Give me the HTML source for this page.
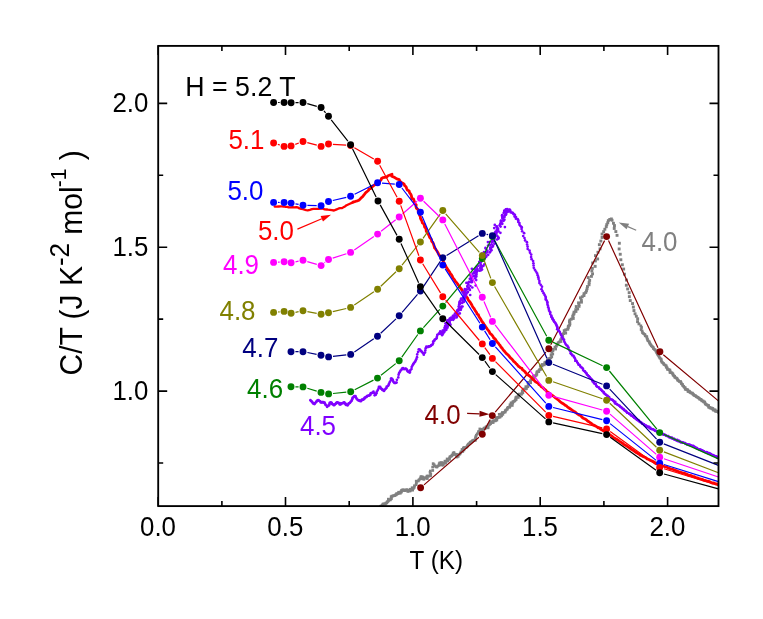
<!DOCTYPE html><html><head><meta charset="utf-8"><style>html,body{margin:0;padding:0;background:#fff;overflow:hidden}svg{will-change:transform}</style></head><body><svg width="763" height="619" viewBox="0 0 763 619" style="display:block;font-family:'Liberation Sans',sans-serif">
<rect width="763" height="619" fill="#fff"/>
<defs><clipPath id="cp"><rect x="158.2" y="45.9" width="560.3" height="460.20000000000005"/></clipPath></defs>
<g clip-path="url(#cp)">
<g fill="#808080"><rect x="379.2" y="504.9" width="2.7" height="2.7"/><rect x="380.3" y="504.9" width="2.7" height="2.7"/><rect x="380.7" y="504.0" width="2.7" height="2.7"/><rect x="381.3" y="503.4" width="2.7" height="2.7"/><rect x="381.8" y="502.6" width="2.7" height="2.7"/><rect x="382.8" y="502.6" width="2.7" height="2.7"/><rect x="384.0" y="502.8" width="2.7" height="2.7"/><rect x="384.4" y="501.8" width="2.7" height="2.7"/><rect x="385.4" y="501.6" width="2.7" height="2.7"/><rect x="385.8" y="500.6" width="2.7" height="2.7"/><rect x="386.5" y="500.1" width="2.7" height="2.7"/><rect x="387.1" y="499.4" width="2.7" height="2.7"/><rect x="387.0" y="497.8" width="2.7" height="2.7"/><rect x="388.8" y="498.6" width="2.7" height="2.7"/><rect x="389.4" y="497.8" width="2.7" height="2.7"/><rect x="390.1" y="497.2" width="2.7" height="2.7"/><rect x="389.8" y="495.4" width="2.7" height="2.7"/><rect x="390.5" y="494.8" width="2.7" height="2.7"/><rect x="391.6" y="494.7" width="2.7" height="2.7"/><rect x="392.4" y="494.3" width="2.7" height="2.7"/><rect x="393.5" y="494.2" width="2.7" height="2.7"/><rect x="394.0" y="493.6" width="2.7" height="2.7"/><rect x="395.0" y="493.4" width="2.7" height="2.7"/><rect x="395.2" y="492.3" width="2.7" height="2.7"/><rect x="396.3" y="492.4" width="2.7" height="2.7"/><rect x="397.0" y="491.9" width="2.7" height="2.7"/><rect x="397.3" y="490.9" width="2.7" height="2.7"/><rect x="398.9" y="491.9" width="2.7" height="2.7"/><rect x="399.1" y="490.7" width="2.7" height="2.7"/><rect x="400.1" y="490.7" width="2.7" height="2.7"/><rect x="400.1" y="489.2" width="2.7" height="2.7"/><rect x="400.8" y="488.7" width="2.7" height="2.7"/><rect x="401.6" y="488.6" width="2.7" height="2.7"/><rect x="402.5" y="488.6" width="2.7" height="2.7"/><rect x="403.1" y="489.2" width="2.7" height="2.7"/><rect x="403.8" y="489.1" width="2.7" height="2.7"/><rect x="404.6" y="488.7" width="2.7" height="2.7"/><rect x="405.3" y="488.4" width="2.7" height="2.7"/><rect x="406.0" y="488.8" width="2.7" height="2.7"/><rect x="406.5" y="490.1" width="2.7" height="2.7"/><rect x="407.4" y="488.8" width="2.7" height="2.7"/><rect x="408.0" y="489.6" width="2.7" height="2.7"/><rect x="408.9" y="489.5" width="2.7" height="2.7"/><rect x="408.9" y="487.9" width="2.7" height="2.7"/><rect x="410.2" y="488.4" width="2.7" height="2.7"/><rect x="411.3" y="488.8" width="2.7" height="2.7"/><rect x="410.8" y="486.4" width="2.7" height="2.7"/><rect x="412.1" y="487.0" width="2.7" height="2.7"/><rect x="412.9" y="486.0" width="2.7" height="2.7"/><rect x="413.1" y="484.4" width="2.7" height="2.7"/><rect x="414.7" y="483.3" width="2.7" height="2.7"/><rect x="415.0" y="481.7" width="2.7" height="2.7"/><rect x="414.9" y="479.8" width="2.7" height="2.7"/><rect x="416.9" y="479.7" width="2.7" height="2.7"/><rect x="417.5" y="478.7" width="2.7" height="2.7"/><rect x="418.4" y="477.8" width="2.7" height="2.7"/><rect x="419.4" y="477.0" width="2.7" height="2.7"/><rect x="419.5" y="475.6" width="2.7" height="2.7"/><rect x="419.9" y="475.3" width="2.7" height="2.7"/><rect x="421.4" y="475.6" width="2.7" height="2.7"/><rect x="421.0" y="477.4" width="2.7" height="2.7"/><rect x="422.4" y="477.8" width="2.7" height="2.7"/><rect x="422.6" y="477.6" width="2.7" height="2.7"/><rect x="423.0" y="476.7" width="2.7" height="2.7"/><rect x="423.8" y="476.5" width="2.7" height="2.7"/><rect x="424.7" y="476.4" width="2.7" height="2.7"/><rect x="426.0" y="477.2" width="2.7" height="2.7"/><rect x="425.6" y="474.8" width="2.7" height="2.7"/><rect x="426.5" y="474.7" width="2.7" height="2.7"/><rect x="427.8" y="474.8" width="2.7" height="2.7"/><rect x="429.2" y="474.3" width="2.7" height="2.7"/><rect x="429.4" y="472.9" width="2.7" height="2.7"/><rect x="428.7" y="471.0" width="2.7" height="2.7"/><rect x="429.0" y="469.7" width="2.7" height="2.7"/><rect x="431.4" y="469.1" width="2.7" height="2.7"/><rect x="431.3" y="465.7" width="2.7" height="2.7"/><rect x="431.8" y="462.3" width="2.7" height="2.7"/><rect x="432.7" y="463.3" width="2.7" height="2.7"/><rect x="433.3" y="464.6" width="2.7" height="2.7"/><rect x="434.6" y="465.4" width="2.7" height="2.7"/><rect x="435.5" y="465.7" width="2.7" height="2.7"/><rect x="436.3" y="464.7" width="2.7" height="2.7"/><rect x="437.7" y="464.1" width="2.7" height="2.7"/><rect x="437.8" y="462.6" width="2.7" height="2.7"/><rect x="438.5" y="461.5" width="2.7" height="2.7"/><rect x="438.6" y="461.9" width="2.7" height="2.7"/><rect x="440.2" y="461.2" width="2.7" height="2.7"/><rect x="439.7" y="463.3" width="2.7" height="2.7"/><rect x="440.6" y="463.7" width="2.7" height="2.7"/><rect x="441.9" y="463.7" width="2.7" height="2.7"/><rect x="441.4" y="461.8" width="2.7" height="2.7"/><rect x="442.7" y="461.7" width="2.7" height="2.7"/><rect x="444.2" y="461.8" width="2.7" height="2.7"/><rect x="443.6" y="459.8" width="2.7" height="2.7"/><rect x="445.1" y="459.8" width="2.7" height="2.7"/><rect x="446.4" y="459.5" width="2.7" height="2.7"/><rect x="445.8" y="457.6" width="2.7" height="2.7"/><rect x="448.1" y="458.0" width="2.7" height="2.7"/><rect x="448.2" y="456.7" width="2.7" height="2.7"/><rect x="448.6" y="455.5" width="2.7" height="2.7"/><rect x="449.5" y="455.0" width="2.7" height="2.7"/><rect x="450.4" y="454.5" width="2.7" height="2.7"/><rect x="450.8" y="453.6" width="2.7" height="2.7"/><rect x="452.0" y="453.4" width="2.7" height="2.7"/><rect x="451.8" y="451.8" width="2.7" height="2.7"/><rect x="452.6" y="451.2" width="2.7" height="2.7"/><rect x="453.0" y="452.7" width="2.7" height="2.7"/><rect x="454.2" y="452.9" width="2.7" height="2.7"/><rect x="455.4" y="453.1" width="2.7" height="2.7"/><rect x="455.2" y="454.7" width="2.7" height="2.7"/><rect x="455.6" y="455.7" width="2.7" height="2.7"/><rect x="456.8" y="455.0" width="2.7" height="2.7"/><rect x="456.9" y="453.5" width="2.7" height="2.7"/><rect x="458.4" y="452.8" width="2.7" height="2.7"/><rect x="459.1" y="451.7" width="2.7" height="2.7"/><rect x="459.7" y="450.5" width="2.7" height="2.7"/><rect x="461.4" y="450.1" width="2.7" height="2.7"/><rect x="460.7" y="448.1" width="2.7" height="2.7"/><rect x="462.6" y="448.6" width="2.7" height="2.7"/><rect x="462.0" y="446.6" width="2.7" height="2.7"/><rect x="463.0" y="446.2" width="2.7" height="2.7"/><rect x="464.4" y="446.2" width="2.7" height="2.7"/><rect x="465.3" y="445.7" width="2.7" height="2.7"/><rect x="465.9" y="444.9" width="2.7" height="2.7"/><rect x="466.3" y="443.9" width="2.7" height="2.7"/><rect x="466.9" y="443.1" width="2.7" height="2.7"/><rect x="467.6" y="442.4" width="2.7" height="2.7"/><rect x="468.5" y="441.9" width="2.7" height="2.7"/><rect x="468.9" y="440.9" width="2.7" height="2.7"/><rect x="469.8" y="440.6" width="2.7" height="2.7"/><rect x="470.6" y="440.2" width="2.7" height="2.7"/><rect x="471.1" y="439.4" width="2.7" height="2.7"/><rect x="472.1" y="439.3" width="2.7" height="2.7"/><rect x="472.7" y="438.7" width="2.7" height="2.7"/><rect x="474.0" y="439.0" width="2.7" height="2.7"/><rect x="474.1" y="437.1" width="2.7" height="2.7"/><rect x="474.3" y="435.4" width="2.7" height="2.7"/><rect x="475.0" y="433.9" width="2.7" height="2.7"/><rect x="475.9" y="432.5" width="2.7" height="2.7"/><rect x="477.2" y="431.2" width="2.7" height="2.7"/><rect x="477.2" y="430.2" width="2.7" height="2.7"/><rect x="478.2" y="430.2" width="2.7" height="2.7"/><rect x="479.4" y="430.6" width="2.7" height="2.7"/><rect x="478.5" y="427.6" width="2.7" height="2.7"/><rect x="479.7" y="428.0" width="2.7" height="2.7"/><rect x="480.9" y="428.4" width="2.7" height="2.7"/><rect x="481.7" y="428.1" width="2.7" height="2.7"/><rect x="482.3" y="427.6" width="2.7" height="2.7"/><rect x="482.8" y="426.7" width="2.7" height="2.7"/><rect x="483.9" y="427.0" width="2.7" height="2.7"/><rect x="484.5" y="426.3" width="2.7" height="2.7"/><rect x="484.8" y="425.4" width="2.7" height="2.7"/><rect x="486.8" y="426.5" width="2.7" height="2.7"/><rect x="486.6" y="424.8" width="2.7" height="2.7"/><rect x="486.9" y="423.7" width="2.7" height="2.7"/><rect x="487.8" y="423.4" width="2.7" height="2.7"/><rect x="488.5" y="422.8" width="2.7" height="2.7"/><rect x="489.2" y="422.3" width="2.7" height="2.7"/><rect x="488.8" y="420.3" width="2.7" height="2.7"/><rect x="490.4" y="420.9" width="2.7" height="2.7"/><rect x="491.8" y="421.2" width="2.7" height="2.7"/><rect x="491.5" y="419.5" width="2.7" height="2.7"/><rect x="492.7" y="419.5" width="2.7" height="2.7"/><rect x="493.9" y="419.5" width="2.7" height="2.7"/><rect x="494.5" y="418.9" width="2.7" height="2.7"/><rect x="495.5" y="418.7" width="2.7" height="2.7"/><rect x="494.8" y="416.4" width="2.7" height="2.7"/><rect x="496.1" y="416.5" width="2.7" height="2.7"/><rect x="496.8" y="416.0" width="2.7" height="2.7"/><rect x="497.9" y="415.9" width="2.7" height="2.7"/><rect x="498.8" y="415.6" width="2.7" height="2.7"/><rect x="497.9" y="413.0" width="2.7" height="2.7"/><rect x="500.2" y="414.5" width="2.7" height="2.7"/><rect x="499.8" y="412.6" width="2.7" height="2.7"/><rect x="501.5" y="413.0" width="2.7" height="2.7"/><rect x="501.0" y="411.2" width="2.7" height="2.7"/><rect x="502.6" y="411.1" width="2.7" height="2.7"/><rect x="503.9" y="410.7" width="2.7" height="2.7"/><rect x="503.9" y="409.3" width="2.7" height="2.7"/><rect x="504.8" y="408.6" width="2.7" height="2.7"/><rect x="505.8" y="408.0" width="2.7" height="2.7"/><rect x="506.1" y="406.9" width="2.7" height="2.7"/><rect x="506.7" y="406.0" width="2.7" height="2.7"/><rect x="508.3" y="405.9" width="2.7" height="2.7"/><rect x="508.7" y="404.8" width="2.7" height="2.7"/><rect x="508.7" y="403.4" width="2.7" height="2.7"/><rect x="510.9" y="404.1" width="2.7" height="2.7"/><rect x="509.7" y="401.5" width="2.7" height="2.7"/><rect x="511.4" y="401.8" width="2.7" height="2.7"/><rect x="511.5" y="400.5" width="2.7" height="2.7"/><rect x="512.4" y="400.0" width="2.7" height="2.7"/><rect x="513.4" y="399.6" width="2.7" height="2.7"/><rect x="513.9" y="398.7" width="2.7" height="2.7"/><rect x="514.8" y="398.2" width="2.7" height="2.7"/><rect x="514.4" y="396.4" width="2.7" height="2.7"/><rect x="515.1" y="395.7" width="2.7" height="2.7"/><rect x="516.9" y="396.1" width="2.7" height="2.7"/><rect x="516.7" y="394.6" width="2.7" height="2.7"/><rect x="517.4" y="393.7" width="2.7" height="2.7"/><rect x="517.9" y="392.7" width="2.7" height="2.7"/><rect x="520.0" y="393.0" width="2.7" height="2.7"/><rect x="520.5" y="392.0" width="2.7" height="2.7"/><rect x="521.5" y="391.4" width="2.7" height="2.7"/><rect x="520.9" y="389.5" width="2.7" height="2.7"/><rect x="522.2" y="389.1" width="2.7" height="2.7"/><rect x="522.2" y="387.7" width="2.7" height="2.7"/><rect x="524.0" y="387.7" width="2.7" height="2.7"/><rect x="525.1" y="387.2" width="2.7" height="2.7"/><rect x="524.5" y="385.3" width="2.7" height="2.7"/><rect x="526.5" y="385.4" width="2.7" height="2.7"/><rect x="526.9" y="384.2" width="2.7" height="2.7"/><rect x="526.9" y="382.7" width="2.7" height="2.7"/><rect x="526.6" y="381.0" width="2.7" height="2.7"/><rect x="529.3" y="381.4" width="2.7" height="2.7"/><rect x="529.1" y="379.8" width="2.7" height="2.7"/><rect x="529.5" y="378.6" width="2.7" height="2.7"/><rect x="530.8" y="378.1" width="2.7" height="2.7"/><rect x="531.5" y="377.1" width="2.7" height="2.7"/><rect x="532.8" y="376.6" width="2.7" height="2.7"/><rect x="532.1" y="374.6" width="2.7" height="2.7"/><rect x="534.0" y="374.5" width="2.7" height="2.7"/><rect x="534.8" y="373.9" width="2.7" height="2.7"/><rect x="535.5" y="373.0" width="2.7" height="2.7"/><rect x="535.4" y="371.4" width="2.7" height="2.7"/><rect x="535.8" y="370.3" width="2.7" height="2.7"/><rect x="537.4" y="370.3" width="2.7" height="2.7"/><rect x="537.6" y="369.1" width="2.7" height="2.7"/><rect x="538.3" y="368.2" width="2.7" height="2.7"/><rect x="539.7" y="368.0" width="2.7" height="2.7"/><rect x="539.5" y="366.4" width="2.7" height="2.7"/><rect x="539.1" y="364.6" width="2.7" height="2.7"/><rect x="540.8" y="364.6" width="2.7" height="2.7"/><rect x="540.8" y="363.1" width="2.7" height="2.7"/><rect x="542.9" y="363.5" width="2.7" height="2.7"/><rect x="543.3" y="362.5" width="2.7" height="2.7"/><rect x="543.5" y="361.2" width="2.7" height="2.7"/><rect x="544.5" y="360.7" width="2.7" height="2.7"/><rect x="545.7" y="360.2" width="2.7" height="2.7"/><rect x="546.0" y="359.0" width="2.7" height="2.7"/><rect x="547.4" y="358.8" width="2.7" height="2.7"/><rect x="547.3" y="357.3" width="2.7" height="2.7"/><rect x="548.6" y="357.0" width="2.7" height="2.7"/><rect x="549.5" y="356.4" width="2.7" height="2.7"/><rect x="550.4" y="355.4" width="2.7" height="2.7"/><rect x="549.7" y="353.4" width="2.7" height="2.7"/><rect x="551.4" y="352.7" width="2.7" height="2.7"/><rect x="550.4" y="350.5" width="2.7" height="2.7"/><rect x="551.6" y="349.5" width="2.7" height="2.7"/><rect x="551.8" y="347.9" width="2.7" height="2.7"/><rect x="554.3" y="347.7" width="2.7" height="2.7"/><rect x="553.6" y="345.7" width="2.7" height="2.7"/><rect x="555.0" y="344.9" width="2.7" height="2.7"/><rect x="555.6" y="343.6" width="2.7" height="2.7"/><rect x="556.4" y="342.6" width="2.7" height="2.7"/><rect x="556.8" y="341.3" width="2.7" height="2.7"/><rect x="558.0" y="340.6" width="2.7" height="2.7"/><rect x="559.6" y="340.2" width="2.7" height="2.7"/><rect x="559.2" y="338.4" width="2.9" height="2.9"/><rect x="560.3" y="337.4" width="2.9" height="2.9"/><rect x="561.3" y="336.4" width="2.9" height="2.9"/><rect x="561.1" y="334.7" width="2.9" height="2.9"/><rect x="561.0" y="333.0" width="2.9" height="2.9"/><rect x="562.2" y="332.1" width="2.9" height="2.9"/><rect x="564.2" y="331.6" width="2.9" height="2.9"/><rect x="562.8" y="329.2" width="2.9" height="2.9"/><rect x="564.3" y="328.4" width="2.9" height="2.9"/><rect x="566.3" y="327.8" width="2.9" height="2.9"/><rect x="566.8" y="326.3" width="2.9" height="2.9"/><rect x="566.9" y="324.7" width="2.9" height="2.9"/><rect x="568.2" y="323.7" width="2.9" height="2.9"/><rect x="568.4" y="322.1" width="2.9" height="2.9"/><rect x="568.0" y="320.2" width="2.9" height="2.9"/><rect x="568.4" y="318.7" width="2.9" height="2.9"/><rect x="569.8" y="317.7" width="2.9" height="2.9"/><rect x="571.8" y="317.0" width="2.9" height="2.9"/><rect x="571.3" y="315.1" width="2.9" height="2.9"/><rect x="571.7" y="313.6" width="2.9" height="2.9"/><rect x="572.5" y="312.4" width="2.9" height="2.9"/><rect x="572.6" y="310.7" width="2.9" height="2.9"/><rect x="574.5" y="310.0" width="2.9" height="2.9"/><rect x="574.3" y="308.2" width="2.9" height="2.9"/><rect x="576.2" y="307.5" width="2.9" height="2.9"/><rect x="574.8" y="305.1" width="2.9" height="2.9"/><rect x="577.6" y="304.9" width="2.9" height="2.9"/><rect x="577.5" y="303.1" width="2.9" height="2.9"/><rect x="577.1" y="301.4" width="2.9" height="2.9"/><rect x="580.0" y="300.7" width="2.9" height="2.9"/><rect x="579.9" y="298.7" width="2.9" height="2.9"/><rect x="579.0" y="296.4" width="2.9" height="2.9"/><rect x="580.8" y="295.3" width="2.9" height="2.9"/><rect x="582.5" y="294.1" width="2.9" height="2.9"/><rect x="582.6" y="292.2" width="2.9" height="2.9"/><rect x="584.3" y="291.0" width="2.9" height="2.9"/><rect x="585.0" y="289.4" width="2.9" height="2.9"/><rect x="585.6" y="287.3" width="2.9" height="2.9"/><rect x="586.0" y="285.1" width="2.9" height="2.9"/><rect x="587.6" y="283.3" width="2.9" height="2.9"/><rect x="587.7" y="281.1" width="2.9" height="2.9"/><rect x="588.2" y="278.9" width="2.9" height="2.9"/><rect x="586.8" y="276.1" width="2.9" height="2.9"/><rect x="590.0" y="274.9" width="2.9" height="2.9"/><rect x="591.1" y="272.4" width="2.9" height="2.9"/><rect x="590.4" y="269.5" width="2.9" height="2.9"/><rect x="590.9" y="266.9" width="2.9" height="2.9"/><rect x="593.7" y="264.9" width="2.9" height="2.9"/><rect x="591.2" y="261.5" width="2.9" height="2.9"/><rect x="593.9" y="259.5" width="2.9" height="2.9"/><rect x="596.2" y="257.5" width="2.9" height="2.9"/><rect x="594.0" y="254.2" width="2.9" height="2.9"/><rect x="596.5" y="250.8" width="2.9" height="2.9"/><rect x="598.6" y="247.4" width="2.9" height="2.9"/><rect x="597.9" y="243.2" width="2.9" height="2.9"/><rect x="599.4" y="239.6" width="2.9" height="2.9"/><rect x="600.6" y="236.0" width="2.9" height="2.9"/><rect x="600.6" y="232.6" width="2.9" height="2.9"/><rect x="602.2" y="230.2" width="2.9" height="2.9"/><rect x="603.4" y="227.8" width="2.9" height="2.9"/><rect x="604.8" y="225.3" width="2.9" height="2.9"/><rect x="605.3" y="223.2" width="2.9" height="2.9"/><rect x="606.3" y="221.3" width="2.9" height="2.9"/><rect x="606.9" y="219.2" width="2.9" height="2.9"/><rect x="608.3" y="218.0" width="2.9" height="2.9"/><rect x="609.9" y="217.5" width="2.9" height="2.9"/><rect x="610.6" y="218.8" width="2.9" height="2.9"/><rect x="612.0" y="221.8" width="2.9" height="2.9"/><rect x="613.0" y="224.1" width="2.9" height="2.9"/><rect x="612.8" y="227.0" width="2.9" height="2.9"/><rect x="614.4" y="230.1" width="2.9" height="2.9"/><rect x="615.6" y="233.9" width="2.9" height="2.9"/><rect x="617.9" y="241.8" width="2.9" height="2.9"/><rect x="617.7" y="247.5" width="2.9" height="2.9"/><rect x="618.8" y="252.8" width="2.9" height="2.9"/><rect x="619.4" y="258.3" width="2.9" height="2.9"/><rect x="620.9" y="263.3" width="2.9" height="2.9"/><rect x="622.2" y="267.6" width="2.9" height="2.9"/><rect x="623.0" y="272.7" width="2.9" height="2.9"/><rect x="625.0" y="278.6" width="2.9" height="2.9"/><rect x="624.9" y="283.8" width="2.9" height="2.9"/><rect x="626.2" y="287.5" width="2.9" height="2.9"/><rect x="627.7" y="291.2" width="2.9" height="2.9"/><rect x="627.9" y="295.2" width="2.9" height="2.9"/><rect x="628.8" y="299.1" width="2.9" height="2.9"/><rect x="631.1" y="302.1" width="2.9" height="2.9"/><rect x="631.9" y="305.6" width="2.9" height="2.9"/><rect x="632.5" y="309.1" width="2.9" height="2.9"/><rect x="633.6" y="312.3" width="2.9" height="2.9"/><rect x="634.9" y="314.8" width="2.9" height="2.9"/><rect x="636.2" y="317.3" width="2.9" height="2.9"/><rect x="636.1" y="320.2" width="2.9" height="2.9"/><rect x="637.5" y="322.4" width="2.9" height="2.9"/><rect x="639.5" y="324.5" width="2.7" height="2.7"/><rect x="640.2" y="326.1" width="2.7" height="2.7"/><rect x="639.8" y="328.2" width="2.7" height="2.7"/><rect x="640.8" y="329.7" width="2.7" height="2.7"/><rect x="641.2" y="331.4" width="2.7" height="2.7"/><rect x="642.3" y="332.3" width="2.7" height="2.7"/><rect x="643.5" y="333.1" width="2.7" height="2.7"/><rect x="643.9" y="334.5" width="2.7" height="2.7"/><rect x="645.4" y="335.2" width="2.7" height="2.7"/><rect x="645.6" y="336.7" width="2.7" height="2.7"/><rect x="646.1" y="338.0" width="2.7" height="2.7"/><rect x="646.6" y="339.3" width="2.7" height="2.7"/><rect x="647.7" y="340.2" width="2.7" height="2.7"/><rect x="648.2" y="341.4" width="2.7" height="2.7"/><rect x="648.7" y="342.5" width="2.7" height="2.7"/><rect x="649.4" y="343.4" width="2.7" height="2.7"/><rect x="650.0" y="344.4" width="2.7" height="2.7"/><rect x="650.9" y="345.2" width="2.7" height="2.7"/><rect x="651.8" y="346.0" width="2.7" height="2.7"/><rect x="652.1" y="347.2" width="2.7" height="2.7"/><rect x="653.0" y="348.0" width="2.7" height="2.7"/><rect x="654.0" y="348.7" width="2.7" height="2.7"/><rect x="654.7" y="349.8" width="2.7" height="2.7"/><rect x="655.2" y="351.0" width="2.7" height="2.7"/><rect x="655.9" y="352.2" width="2.7" height="2.7"/><rect x="656.5" y="353.4" width="2.7" height="2.7"/><rect x="657.3" y="354.5" width="2.7" height="2.7"/><rect x="657.9" y="355.8" width="2.7" height="2.7"/><rect x="658.7" y="356.9" width="2.7" height="2.7"/><rect x="659.8" y="357.8" width="2.7" height="2.7"/><rect x="659.9" y="359.3" width="2.7" height="2.7"/><rect x="660.4" y="360.6" width="2.7" height="2.7"/><rect x="661.3" y="361.4" width="2.7" height="2.7"/><rect x="662.2" y="362.1" width="2.7" height="2.7"/><rect x="662.7" y="363.2" width="2.7" height="2.7"/><rect x="663.9" y="363.8" width="2.7" height="2.7"/><rect x="664.9" y="364.5" width="2.7" height="2.7"/><rect x="664.9" y="365.9" width="2.7" height="2.7"/><rect x="665.9" y="366.6" width="2.7" height="2.7"/><rect x="666.1" y="368.0" width="2.7" height="2.7"/><rect x="667.4" y="368.3" width="2.7" height="2.7"/><rect x="668.5" y="368.6" width="2.7" height="2.7"/><rect x="668.7" y="369.8" width="2.7" height="2.7"/><rect x="668.7" y="371.2" width="2.7" height="2.7"/><rect x="670.0" y="371.3" width="2.7" height="2.7"/><rect x="670.9" y="371.8" width="2.7" height="2.7"/><rect x="671.5" y="372.6" width="2.7" height="2.7"/><rect x="671.8" y="373.7" width="2.7" height="2.7"/><rect x="672.5" y="374.4" width="2.7" height="2.7"/><rect x="673.3" y="375.0" width="2.7" height="2.7"/><rect x="673.6" y="376.1" width="2.7" height="2.7"/><rect x="674.6" y="376.5" width="2.7" height="2.7"/><rect x="675.5" y="377.0" width="2.7" height="2.7"/><rect x="676.0" y="377.9" width="2.7" height="2.7"/><rect x="676.4" y="378.9" width="2.7" height="2.7"/><rect x="677.3" y="379.4" width="2.7" height="2.7"/><rect x="678.0" y="380.1" width="2.7" height="2.7"/><rect x="679.3" y="380.2" width="2.7" height="2.7"/><rect x="679.7" y="381.3" width="2.7" height="2.7"/><rect x="680.1" y="382.4" width="2.7" height="2.7"/><rect x="681.1" y="383.0" width="2.7" height="2.7"/><rect x="681.4" y="384.2" width="2.7" height="2.7"/><rect x="682.3" y="385.0" width="2.7" height="2.7"/><rect x="682.9" y="385.9" width="2.7" height="2.7"/><rect x="683.9" y="386.4" width="2.7" height="2.7"/><rect x="683.9" y="387.9" width="2.7" height="2.7"/><rect x="684.9" y="388.1" width="2.7" height="2.7"/><rect x="686.0" y="388.2" width="2.7" height="2.7"/><rect x="686.6" y="388.9" width="2.7" height="2.7"/><rect x="686.7" y="390.2" width="2.7" height="2.7"/><rect x="688.1" y="389.9" width="2.7" height="2.7"/><rect x="688.5" y="390.8" width="2.7" height="2.7"/><rect x="689.2" y="391.4" width="2.7" height="2.7"/><rect x="690.1" y="391.7" width="2.7" height="2.7"/><rect x="691.1" y="391.8" width="2.7" height="2.7"/><rect x="691.5" y="392.7" width="2.7" height="2.7"/><rect x="692.2" y="393.2" width="2.7" height="2.7"/><rect x="692.7" y="393.9" width="2.7" height="2.7"/><rect x="693.5" y="394.3" width="2.7" height="2.7"/><rect x="694.3" y="394.5" width="2.7" height="2.7"/><rect x="694.9" y="395.2" width="2.7" height="2.7"/><rect x="695.6" y="395.6" width="2.7" height="2.7"/><rect x="696.4" y="396.0" width="2.7" height="2.7"/><rect x="697.1" y="396.5" width="2.7" height="2.7"/><rect x="697.9" y="397.0" width="2.7" height="2.7"/><rect x="698.4" y="397.9" width="2.7" height="2.7"/><rect x="699.5" y="398.0" width="2.7" height="2.7"/><rect x="700.1" y="398.7" width="2.7" height="2.7"/><rect x="700.6" y="399.5" width="2.7" height="2.7"/><rect x="701.7" y="399.6" width="2.7" height="2.7"/><rect x="702.2" y="400.5" width="2.7" height="2.7"/><rect x="703.3" y="400.6" width="2.7" height="2.7"/><rect x="703.6" y="401.6" width="2.7" height="2.7"/><rect x="704.0" y="402.5" width="2.7" height="2.7"/><rect x="704.7" y="403.1" width="2.7" height="2.7"/><rect x="705.6" y="403.5" width="2.7" height="2.7"/><rect x="706.3" y="404.0" width="2.7" height="2.7"/><rect x="707.3" y="404.2" width="2.7" height="2.7"/><rect x="707.2" y="405.8" width="2.7" height="2.7"/><rect x="708.2" y="406.0" width="2.7" height="2.7"/><rect x="708.8" y="406.7" width="2.7" height="2.7"/><rect x="709.9" y="406.5" width="2.7" height="2.7"/><rect x="710.5" y="407.2" width="2.7" height="2.7"/><rect x="711.5" y="407.1" width="2.7" height="2.7"/><rect x="711.7" y="408.4" width="2.7" height="2.7"/><rect x="712.4" y="408.9" width="2.7" height="2.7"/><rect x="713.7" y="408.4" width="2.7" height="2.7"/><rect x="714.0" y="409.5" width="2.7" height="2.7"/><rect x="714.5" y="410.1" width="2.7" height="2.7"/><rect x="715.7" y="409.8" width="2.7" height="2.7"/><rect x="716.4" y="410.2" width="2.7" height="2.7"/><rect x="717.0" y="410.9" width="2.7" height="2.7"/></g>
<path d="M424.0 484.9L478.9 437.2M484.4 430.4L490.2 419.5M495.2 412.2L545.9 352.2M550.8 344.8L604.6 240.6M608.5 240.6L658.0 347.8M663.3 354.7L718.4 400.9" fill="none" stroke="#800000" stroke-width="1.2"/>
<g fill="#800000"><circle cx="420.6" cy="487.8" r="3.45"/><circle cx="482.3" cy="434.3" r="3.45"/><circle cx="492.3" cy="415.6" r="3.45"/><circle cx="548.8" cy="348.8" r="3.45"/><circle cx="606.6" cy="236.6" r="3.45"/><circle cx="659.9" cy="351.8" r="3.45"/></g>
<polyline points="274.6,206.6 276.6,206.6 278.7,206.5 280.7,206.4 282.0,206.3 283.7,206.5 285.5,206.9 287.3,206.8 288.7,207.3 290.7,207.3 292.5,207.2 294.5,207.4 296.2,207.2 297.9,207.4 299.5,208.4 301.2,208.9 303.0,209.1 304.5,209.6 306.2,210.1 307.7,210.3 309.8,209.8 312.0,209.2 313.6,208.9 315.4,208.9 317.0,208.9 318.9,208.8 320.7,208.7 322.7,208.7 324.7,209.3 326.8,209.5 328.0,209.7 329.8,209.8 331.8,210.1 334.0,210.5 336.1,209.6 338.2,208.7 340.0,208.2 341.7,208.2 343.4,207.3 345.0,206.4 346.1,205.5 347.7,204.7 349.9,203.7 351.8,202.9 353.0,202.2" fill="none" stroke="#ff0000" stroke-width="2.3" stroke-linejoin="round" stroke-linecap="round"/>
<polyline points="353.0,202.2 354.6,201.7 356.0,201.2 357.2,200.9 358.9,200.3 359.9,199.3 361.2,197.9 362.5,196.8 363.4,195.6 364.6,194.1 365.6,192.7 366.3,192.3 368.6,190.2 368.8,189.1 370.9,188.5 371.6,187.5 373.0,186.1 374.5,184.9 375.9,184.4 377.7,183.1 378.0,182.2 379.3,181.9 381.1,179.9 381.5,178.5 382.8,177.7 384.9,177.3 386.5,177.2 388.0,175.7 392.0,174.3 391.7,176.1 393.5,176.9 394.8,177.6 396.4,178.7 396.8,178.8 399.2,179.6 400.1,181.4 401.4,182.5 403.3,183.4 404.2,184.3 404.5,185.4 406.0,186.7 406.7,188.6 407.3,190.0 409.2,191.0 409.5,192.6 410.7,194.1 411.2,195.1 411.6,196.7 411.7,198.5 413.4,198.8 414.1,200.7 414.6,202.3 414.5,203.5 416.2,204.9 415.9,206.1 416.4,208.1 418.1,209.6 418.2,211.7 418.5,212.1 419.4,214.0 419.4,214.8 420.4,216.8 420.4,218.1 421.2,219.8 421.9,221.0 422.4,222.9 423.7,223.8 424.2,225.1 424.7,227.1 425.9,228.2 426.1,229.8 426.3,231.2 427.3,232.8 427.9,233.4 429.0,235.6 429.6,237.3 430.4,238.2 431.4,239.4 431.7,241.3 433.0,242.7 433.5,244.0 434.2,246.3 434.6,247.9 435.4,248.6 436.4,250.4 436.7,250.6 438.1,253.0 439.0,255.0 439.6,255.5 440.7,256.9 441.8,257.7 441.9,259.0 443.0,260.9 443.9,262.8 444.6,264.0 445.4,265.4 446.2,267.1 447.2,268.5 448.0,269.9 448.9,271.0 449.8,272.3 450.3,273.8 451.4,274.7 452.3,276.2 452.7,277.7 453.8,278.9 454.6,280.0 455.3,281.4 456.5,282.5 457.5,283.8 458.4,285.1 459.3,286.1 460.1,287.8 461.3,288.9 462.0,290.5 463.0,291.6 464.1,292.8 464.9,294.0 465.5,295.4 466.4,296.8 467.5,297.9 467.9,299.3 468.7,300.6 469.8,301.8 470.6,302.9 471.4,304.2 472.1,305.6 472.9,307.1 473.9,308.3 474.8,309.9 475.5,311.1 476.6,312.5 477.0,314.1 478.4,314.8 478.9,316.5 479.9,317.9 480.6,319.0 481.5,320.7 482.1,321.7 483.2,323.0 484.0,324.5 485.0,325.7 485.7,327.0 486.7,328.2 487.6,329.6 488.7,330.9 489.3,331.8 490.0,333.4 491.2,334.3 492.3,335.4 493.2,336.8 493.7,338.0 495.2,339.0 496.1,340.6 497.1,341.9 498.2,343.0 499.1,344.3 500.1,345.5 501.0,347.1 502.1,348.1 502.8,349.3 504.0,350.8 505.1,352.0 506.1,353.3 507.2,354.2 508.5,355.4 509.4,356.5 510.5,357.9 511.7,358.8 512.8,360.2 513.7,361.4 515.0,362.4 516.2,363.7 517.1,364.6 518.2,366.0 519.3,366.8 520.4,367.8 521.9,368.4 522.6,369.9 523.8,370.7 525.2,371.9 525.8,373.0 526.9,374.1 528.2,375.0 529.7,376.1 530.5,376.8 532.0,378.3 532.9,379.3 534.2,380.3 535.0,381.3 536.6,382.5 537.8,383.0 538.9,384.5 540.4,385.4 541.1,386.5 542.5,387.4 543.7,388.4 544.7,389.4 545.9,390.4 546.8,391.7 548.2,392.3 549.4,393.5 550.5,394.2 551.9,395.2 552.9,395.7 554.4,397.0 555.4,397.8 556.6,398.7 557.6,399.5 558.9,400.5 560.0,401.6 561.2,402.5 562.4,403.3 564.0,404.2 564.9,405.1 566.3,405.7 567.4,406.9 568.7,407.8 570.1,408.7 571.4,409.6 572.5,410.4 573.7,411.2 575.0,411.9 576.2,413.0 577.4,413.9 578.8,414.8 580.3,415.3 581.2,416.3 582.6,417.8 583.4,418.3 585.1,419.1 586.3,419.7 587.6,421.0 588.8,421.7 590.1,422.6 591.4,423.5 592.4,424.4 594.2,425.3 595.4,426.0 597.0,426.9 598.5,428.0 599.5,428.2 601.2,429.6 602.6,430.3 603.7,430.9 605.3,431.7 606.3,432.6 608.3,433.8 609.1,434.3 610.5,435.2 612.0,436.1 612.9,437.2 614.2,437.9 615.6,438.7 617.0,439.5 617.9,440.1 619.3,441.2 620.8,442.1 622.1,443.0 623.2,443.7 624.3,444.7 626.0,445.6 627.2,446.4 628.6,447.3 629.9,448.2 631.1,449.2 632.3,449.8 633.5,450.6 635.2,451.8 636.2,452.5 637.7,453.4 639.0,454.0 640.0,455.1 641.7,455.7 642.8,456.4 644.2,457.0 645.9,457.8 647.1,458.9 648.7,459.3 649.8,460.1 651.5,460.8 652.9,461.4 654.2,462.1 655.6,463.1 656.7,463.6 658.3,464.2 659.7,465.1 661.4,465.6 662.6,465.8 664.3,466.5 665.5,466.8 666.9,467.3 668.4,468.1 669.8,468.5 671.1,469.2 672.6,469.2 674.1,469.9 675.4,470.4 677.1,470.8 678.4,471.7 680.0,472.0 681.4,472.5 682.8,473.1 684.2,473.1 685.7,473.9 687.2,474.4 688.6,475.3 689.8,475.3 691.3,475.6 692.7,476.5 694.4,476.7 695.8,477.5 697.4,477.9 699.0,478.6 700.8,479.0 702.0,479.4 703.7,480.1 704.9,480.4 706.5,480.8 707.9,481.1 709.4,481.6 711.1,482.4 712.2,483.0 714.0,483.0 715.7,483.9 717.2,484.0 718.4,484.7" fill="none" stroke="#ff0000" stroke-width="2.8" stroke-linejoin="round" stroke-linecap="round"/>
<g fill="#8000ff"><circle cx="310.4" cy="400.2" r="1.35"/><circle cx="311.1" cy="401.0" r="1.35"/><circle cx="311.9" cy="401.7" r="1.35"/><circle cx="312.6" cy="402.5" r="1.35"/><circle cx="313.1" cy="403.5" r="1.35"/><circle cx="314.3" cy="403.7" r="1.35"/><circle cx="314.4" cy="404.1" r="1.35"/><circle cx="315.1" cy="403.1" r="1.35"/><circle cx="316.0" cy="402.2" r="1.35"/><circle cx="316.7" cy="401.2" r="1.35"/><circle cx="317.6" cy="400.3" r="1.35"/><circle cx="318.2" cy="400.2" r="1.35"/><circle cx="318.9" cy="400.6" r="1.35"/><circle cx="319.7" cy="401.0" r="1.35"/><circle cx="320.4" cy="401.6" r="1.35"/><circle cx="320.8" cy="402.4" r="1.35"/><circle cx="321.7" cy="402.4" r="1.35"/><circle cx="322.4" cy="402.2" r="1.35"/><circle cx="323.1" cy="402.1" r="1.35"/><circle cx="323.8" cy="402.7" r="1.35"/><circle cx="324.6" cy="402.5" r="1.35"/><circle cx="325.0" cy="403.8" r="1.35"/><circle cx="325.6" cy="404.9" r="1.35"/><circle cx="326.7" cy="405.6" r="1.35"/><circle cx="327.1" cy="406.8" r="1.35"/><circle cx="327.7" cy="406.1" r="1.35"/><circle cx="329.0" cy="405.4" r="1.35"/><circle cx="329.4" cy="404.2" r="1.35"/><circle cx="329.7" cy="402.8" r="1.35"/><circle cx="330.7" cy="402.4" r="1.35"/><circle cx="331.7" cy="402.8" r="1.35"/><circle cx="331.9" cy="404.0" r="1.35"/><circle cx="333.0" cy="404.3" r="1.35"/><circle cx="333.6" cy="405.1" r="1.35"/><circle cx="334.4" cy="405.1" r="1.35"/><circle cx="334.9" cy="404.3" r="1.35"/><circle cx="335.8" cy="403.7" r="1.35"/><circle cx="336.3" cy="402.9" r="1.35"/><circle cx="337.2" cy="402.4" r="1.35"/><circle cx="337.8" cy="402.7" r="1.35"/><circle cx="338.5" cy="403.2" r="1.35"/><circle cx="339.7" cy="403.0" r="1.35"/><circle cx="339.7" cy="404.5" r="1.35"/><circle cx="340.6" cy="404.5" r="1.35"/><circle cx="341.0" cy="403.5" r="1.35"/><circle cx="342.0" cy="403.4" r="1.35"/><circle cx="342.8" cy="403.0" r="1.35"/><circle cx="343.6" cy="402.6" r="1.35"/><circle cx="344.3" cy="402.3" r="1.35"/><circle cx="344.5" cy="403.5" r="1.35"/><circle cx="345.5" cy="403.6" r="1.35"/><circle cx="345.8" cy="404.8" r="1.35"/><circle cx="346.9" cy="404.7" r="1.35"/><circle cx="347.5" cy="405.5" r="1.35"/><circle cx="348.2" cy="404.5" r="1.35"/><circle cx="348.7" cy="403.4" r="1.35"/><circle cx="350.0" cy="402.8" r="1.35"/><circle cx="350.6" cy="401.8" r="1.35"/><circle cx="351.5" cy="400.9" r="1.35"/><circle cx="352.0" cy="399.8" r="1.35"/><circle cx="352.4" cy="398.7" r="1.35"/><circle cx="352.8" cy="397.6" r="1.35"/><circle cx="353.7" cy="396.9" r="1.35"/><circle cx="354.4" cy="396.0" r="1.35"/><circle cx="355.5" cy="396.2" r="1.35"/><circle cx="355.9" cy="397.6" r="1.35"/><circle cx="356.6" cy="398.7" r="1.35"/><circle cx="357.5" cy="399.8" r="1.35"/><circle cx="358.1" cy="400.1" r="1.35"/><circle cx="358.8" cy="400.3" r="1.35"/><circle cx="359.5" cy="400.7" r="1.35"/><circle cx="360.1" cy="401.1" r="1.35"/><circle cx="361.1" cy="401.1" r="1.35"/><circle cx="361.5" cy="400.2" r="1.35"/><circle cx="362.0" cy="399.5" r="1.35"/><circle cx="363.3" cy="399.7" r="1.35"/><circle cx="363.7" cy="398.9" r="1.35"/><circle cx="364.6" cy="398.6" r="1.35"/><circle cx="364.8" cy="397.5" r="1.35"/><circle cx="365.7" cy="397.3" r="1.35"/><circle cx="366.5" cy="396.9" r="1.35"/><circle cx="367.0" cy="396.1" r="1.35"/><circle cx="367.8" cy="395.8" r="1.35"/><circle cx="368.7" cy="395.7" r="1.35"/><circle cx="369.5" cy="395.3" r="1.35"/><circle cx="370.3" cy="394.9" r="1.35"/><circle cx="370.5" cy="393.7" r="1.35"/><circle cx="371.1" cy="393.1" r="1.35"/><circle cx="372.2" cy="392.9" r="1.35"/><circle cx="373.0" cy="392.5" r="1.35"/><circle cx="373.5" cy="391.7" r="1.35"/><circle cx="374.6" cy="393.3" r="1.35"/><circle cx="374.7" cy="395.3" r="1.35"/><circle cx="375.8" cy="394.7" r="1.35"/><circle cx="376.5" cy="393.2" r="1.35"/><circle cx="376.9" cy="391.5" r="1.35"/><circle cx="377.8" cy="390.1" r="1.35"/><circle cx="378.6" cy="388.6" r="1.35"/><circle cx="378.9" cy="386.9" r="1.35"/><circle cx="380.2" cy="386.9" r="1.35"/><circle cx="380.4" cy="388.0" r="1.35"/><circle cx="381.1" cy="388.6" r="1.35"/><circle cx="381.9" cy="389.1" r="1.35"/><circle cx="382.4" cy="389.9" r="1.35"/><circle cx="383.4" cy="390.2" r="1.35"/><circle cx="384.0" cy="390.9" r="1.35"/><circle cx="384.6" cy="389.8" r="1.35"/><circle cx="385.5" cy="388.9" r="1.35"/><circle cx="386.5" cy="388.0" r="1.35"/><circle cx="386.7" cy="386.7" r="1.35"/><circle cx="388.0" cy="386.0" r="1.35"/><circle cx="388.6" cy="384.9" r="1.35"/><circle cx="389.1" cy="383.7" r="1.35"/><circle cx="389.8" cy="382.0" r="1.35"/><circle cx="390.8" cy="380.5" r="1.35"/><circle cx="391.0" cy="378.7" r="1.35"/><circle cx="391.7" cy="378.6" r="1.35"/><circle cx="392.7" cy="379.5" r="1.35"/><circle cx="393.0" cy="380.8" r="1.35"/><circle cx="393.5" cy="382.0" r="1.35"/><circle cx="394.4" cy="382.9" r="1.35"/><circle cx="395.2" cy="383.0" r="1.35"/><circle cx="395.9" cy="382.8" r="1.35"/><circle cx="396.6" cy="382.5" r="1.35"/><circle cx="396.9" cy="379.8" r="1.35"/><circle cx="398.3" cy="377.4" r="1.35"/><circle cx="398.6" cy="374.7" r="1.35"/><circle cx="399.1" cy="373.0" r="1.35"/><circle cx="399.9" cy="371.8" r="1.35"/><circle cx="400.6" cy="370.6" r="1.35"/><circle cx="401.7" cy="369.6" r="1.35"/><circle cx="402.1" cy="368.7" r="1.35"/><circle cx="403.0" cy="368.2" r="1.35"/><circle cx="403.5" cy="369.0" r="1.35"/><circle cx="404.2" cy="369.1" r="1.35"/><circle cx="405.0" cy="368.8" r="1.35"/><circle cx="405.8" cy="368.7" r="1.35"/><circle cx="406.6" cy="369.3" r="1.35"/><circle cx="407.2" cy="370.2" r="1.35"/><circle cx="407.7" cy="371.3" r="1.35"/><circle cx="408.6" cy="372.0" r="1.35"/><circle cx="409.7" cy="372.6" r="1.35"/><circle cx="410.0" cy="372.1" r="1.35"/><circle cx="410.2" cy="370.3" r="1.35"/><circle cx="411.5" cy="369.0" r="1.35"/><circle cx="411.7" cy="367.1" r="1.35"/><circle cx="412.5" cy="365.6" r="1.35"/><circle cx="413.2" cy="364.2" r="1.35"/><circle cx="414.0" cy="362.9" r="1.35"/><circle cx="415.1" cy="361.8" r="1.35"/><circle cx="415.7" cy="360.4" r="1.35"/><circle cx="416.4" cy="359.0" r="1.35"/><circle cx="417.0" cy="357.2" r="1.35"/><circle cx="417.2" cy="354.4" r="1.35"/><circle cx="418.1" cy="351.9" r="1.35"/><circle cx="418.8" cy="349.3" r="1.35"/><circle cx="419.9" cy="349.5" r="1.35"/><circle cx="420.3" cy="350.6" r="1.35"/><circle cx="421.3" cy="351.2" r="1.35"/><circle cx="422.0" cy="352.0" r="1.35"/><circle cx="422.7" cy="352.8" r="1.35"/><circle cx="423.7" cy="353.4" r="1.35"/><circle cx="423.8" cy="354.7" r="1.35"/><circle cx="425.0" cy="352.6" r="1.35"/><circle cx="425.3" cy="350.4" r="1.35"/><circle cx="425.7" cy="348.2" r="1.35"/><circle cx="426.4" cy="346.5" r="1.35"/><circle cx="427.4" cy="347.0" r="1.35"/><circle cx="428.2" cy="346.9" r="1.35"/><circle cx="428.8" cy="346.4" r="1.35"/><circle cx="429.6" cy="346.3" r="1.35"/><circle cx="430.4" cy="346.1" r="1.35"/><circle cx="431.0" cy="345.7" r="1.35"/><circle cx="431.5" cy="345.0" r="1.35"/><circle cx="432.6" cy="344.4" r="1.35"/><circle cx="433.2" cy="343.0" r="1.35"/><circle cx="433.3" cy="341.3" r="1.35"/><circle cx="434.3" cy="340.7" r="1.35"/><circle cx="434.8" cy="339.6" r="1.35"/><circle cx="435.8" cy="339.0" r="1.35"/><circle cx="436.6" cy="338.3" r="1.35"/><circle cx="436.9" cy="336.8" r="1.35"/><circle cx="437.3" cy="334.9" r="1.35"/><circle cx="438.7" cy="333.9" r="1.35"/><circle cx="439.3" cy="333.4" r="1.35"/><circle cx="440.1" cy="333.5" r="1.35"/><circle cx="440.2" cy="331.4" r="1.35"/><circle cx="441.4" cy="334.0" r="1.35"/><circle cx="442.0" cy="335.1" r="1.35"/><circle cx="442.2" cy="334.9" r="1.35"/><circle cx="441.6" cy="332.3" r="1.35"/><circle cx="442.1" cy="332.8" r="1.35"/><circle cx="442.1" cy="332.2" r="1.35"/><circle cx="442.8" cy="333.4" r="1.35"/><circle cx="443.1" cy="333.4" r="1.35"/><circle cx="443.0" cy="332.2" r="1.35"/><circle cx="442.7" cy="330.5" r="1.35"/><circle cx="444.3" cy="332.0" r="1.35"/><circle cx="443.2" cy="330.8" r="1.35"/><circle cx="444.6" cy="330.7" r="1.35"/><circle cx="444.5" cy="330.0" r="1.35"/><circle cx="446.2" cy="330.0" r="1.35"/><circle cx="446.0" cy="329.2" r="1.35"/><circle cx="444.5" cy="327.9" r="1.35"/><circle cx="445.6" cy="327.7" r="1.35"/><circle cx="447.4" cy="327.7" r="1.35"/><circle cx="445.1" cy="326.0" r="1.35"/><circle cx="446.4" cy="326.2" r="1.35"/><circle cx="447.4" cy="326.4" r="1.35"/><circle cx="447.7" cy="326.0" r="1.35"/><circle cx="447.2" cy="325.2" r="1.35"/><circle cx="445.6" cy="323.6" r="1.35"/><circle cx="445.9" cy="323.2" r="1.35"/><circle cx="447.7" cy="323.9" r="1.35"/><circle cx="448.1" cy="323.6" r="1.35"/><circle cx="450.5" cy="324.7" r="1.35"/><circle cx="447.3" cy="322.0" r="1.35"/><circle cx="449.6" cy="323.0" r="1.35"/><circle cx="449.5" cy="322.4" r="1.35"/><circle cx="447.3" cy="320.4" r="1.35"/><circle cx="448.4" cy="320.6" r="1.35"/><circle cx="449.6" cy="320.9" r="1.35"/><circle cx="449.2" cy="320.1" r="1.35"/><circle cx="449.8" cy="320.0" r="1.35"/><circle cx="450.7" cy="320.0" r="1.35"/><circle cx="449.6" cy="318.8" r="1.35"/><circle cx="451.0" cy="319.5" r="1.35"/><circle cx="450.6" cy="318.2" r="1.35"/><circle cx="450.9" cy="318.2" r="1.35"/><circle cx="451.8" cy="319.1" r="1.35"/><circle cx="451.3" cy="317.8" r="1.35"/><circle cx="452.1" cy="318.6" r="1.35"/><circle cx="453.2" cy="319.8" r="1.35"/><circle cx="452.5" cy="318.0" r="1.35"/><circle cx="452.6" cy="317.7" r="1.35"/><circle cx="453.4" cy="318.4" r="1.35"/><circle cx="453.0" cy="317.2" r="1.35"/><circle cx="454.1" cy="318.5" r="1.35"/><circle cx="452.9" cy="315.9" r="1.35"/><circle cx="454.3" cy="317.7" r="1.35"/><circle cx="453.9" cy="316.4" r="1.35"/><circle cx="454.0" cy="316.0" r="1.35"/><circle cx="456.6" cy="317.5" r="1.35"/><circle cx="454.1" cy="315.6" r="1.35"/><circle cx="457.0" cy="316.6" r="1.35"/><circle cx="456.1" cy="315.5" r="1.35"/><circle cx="457.2" cy="315.5" r="1.35"/><circle cx="454.9" cy="313.7" r="1.35"/><circle cx="457.5" cy="314.5" r="1.35"/><circle cx="458.0" cy="314.2" r="1.35"/><circle cx="456.6" cy="312.8" r="1.35"/><circle cx="456.8" cy="312.4" r="1.35"/><circle cx="459.8" cy="313.4" r="1.35"/><circle cx="457.6" cy="311.6" r="1.35"/><circle cx="457.3" cy="310.8" r="1.35"/><circle cx="457.3" cy="310.3" r="1.35"/><circle cx="458.7" cy="310.4" r="1.35"/><circle cx="458.8" cy="309.9" r="1.35"/><circle cx="458.9" cy="309.4" r="1.35"/><circle cx="460.8" cy="309.8" r="1.35"/><circle cx="458.9" cy="308.2" r="1.35"/><circle cx="459.9" cy="308.2" r="1.35"/><circle cx="461.3" cy="308.0" r="1.35"/><circle cx="458.8" cy="306.3" r="1.35"/><circle cx="461.3" cy="306.7" r="1.35"/><circle cx="462.5" cy="306.5" r="1.35"/><circle cx="459.2" cy="304.4" r="1.35"/><circle cx="459.7" cy="304.0" r="1.35"/><circle cx="460.1" cy="303.4" r="1.35"/><circle cx="459.4" cy="302.5" r="1.35"/><circle cx="462.2" cy="303.0" r="1.35"/><circle cx="459.9" cy="301.3" r="1.35"/><circle cx="462.7" cy="301.9" r="1.35"/><circle cx="464.0" cy="301.8" r="1.35"/><circle cx="460.9" cy="299.7" r="1.35"/><circle cx="462.6" cy="299.9" r="1.35"/><circle cx="461.2" cy="298.5" r="1.35"/><circle cx="464.3" cy="299.6" r="1.35"/><circle cx="462.9" cy="298.2" r="1.35"/><circle cx="463.7" cy="298.0" r="1.35"/><circle cx="464.3" cy="297.7" r="1.35"/><circle cx="465.0" cy="297.6" r="1.35"/><circle cx="464.3" cy="296.6" r="1.35"/><circle cx="465.0" cy="296.3" r="1.35"/><circle cx="464.2" cy="295.3" r="1.35"/><circle cx="465.7" cy="295.5" r="1.35"/><circle cx="463.5" cy="293.8" r="1.35"/><circle cx="466.1" cy="294.5" r="1.35"/><circle cx="462.6" cy="292.1" r="1.35"/><circle cx="465.5" cy="293.1" r="1.35"/><circle cx="470.2" cy="295.0" r="1.35"/><circle cx="467.1" cy="292.7" r="1.35"/><circle cx="464.9" cy="290.9" r="1.35"/><circle cx="467.9" cy="291.9" r="1.35"/><circle cx="465.8" cy="290.3" r="1.35"/><circle cx="464.8" cy="289.2" r="1.35"/><circle cx="466.8" cy="289.3" r="1.35"/><circle cx="469.9" cy="290.0" r="1.35"/><circle cx="469.4" cy="289.1" r="1.35"/><circle cx="468.8" cy="288.1" r="1.35"/><circle cx="467.4" cy="286.8" r="1.35"/><circle cx="467.4" cy="286.1" r="1.35"/><circle cx="472.3" cy="287.5" r="1.35"/><circle cx="470.4" cy="286.0" r="1.35"/><circle cx="468.4" cy="284.5" r="1.35"/><circle cx="466.4" cy="282.9" r="1.35"/><circle cx="468.1" cy="282.9" r="1.35"/><circle cx="475.7" cy="285.5" r="1.35"/><circle cx="469.0" cy="281.9" r="1.35"/><circle cx="471.3" cy="282.2" r="1.35"/><circle cx="472.1" cy="281.9" r="1.35"/><circle cx="471.6" cy="281.0" r="1.35"/><circle cx="471.7" cy="280.3" r="1.35"/><circle cx="469.8" cy="278.8" r="1.35"/><circle cx="470.7" cy="278.5" r="1.35"/><circle cx="476.2" cy="280.1" r="1.35"/><circle cx="471.7" cy="277.5" r="1.35"/><circle cx="475.1" cy="278.3" r="1.35"/><circle cx="470.4" cy="275.6" r="1.35"/><circle cx="473.4" cy="276.2" r="1.35"/><circle cx="474.7" cy="276.0" r="1.35"/><circle cx="476.3" cy="276.6" r="1.35"/><circle cx="472.7" cy="273.7" r="1.35"/><circle cx="476.0" cy="275.3" r="1.35"/><circle cx="475.9" cy="274.6" r="1.35"/><circle cx="474.1" cy="273.0" r="1.35"/><circle cx="476.5" cy="273.9" r="1.35"/><circle cx="474.4" cy="272.0" r="1.35"/><circle cx="474.8" cy="271.7" r="1.35"/><circle cx="476.4" cy="272.2" r="1.35"/><circle cx="471.9" cy="268.8" r="1.35"/><circle cx="476.8" cy="271.3" r="1.35"/><circle cx="475.4" cy="269.9" r="1.35"/><circle cx="474.8" cy="269.0" r="1.35"/><circle cx="476.9" cy="269.8" r="1.35"/><circle cx="479.3" cy="270.7" r="1.35"/><circle cx="477.5" cy="269.0" r="1.35"/><circle cx="480.7" cy="270.4" r="1.35"/><circle cx="476.6" cy="267.3" r="1.35"/><circle cx="476.6" cy="266.8" r="1.35"/><circle cx="482.0" cy="269.6" r="1.35"/><circle cx="480.2" cy="267.9" r="1.35"/><circle cx="481.4" cy="268.1" r="1.35"/><circle cx="478.5" cy="265.7" r="1.35"/><circle cx="481.6" cy="267.1" r="1.35"/><circle cx="480.9" cy="266.1" r="1.35"/><circle cx="481.9" cy="266.2" r="1.35"/><circle cx="481.0" cy="265.1" r="1.35"/><circle cx="483.3" cy="266.0" r="1.35"/><circle cx="480.3" cy="263.5" r="1.35"/><circle cx="480.0" cy="262.8" r="1.35"/><circle cx="479.3" cy="261.8" r="1.35"/><circle cx="484.3" cy="264.4" r="1.35"/><circle cx="481.1" cy="261.9" r="1.35"/><circle cx="480.7" cy="261.1" r="1.35"/><circle cx="481.2" cy="260.7" r="1.35"/><circle cx="482.4" cy="260.7" r="1.35"/><circle cx="481.1" cy="259.4" r="1.35"/><circle cx="483.2" cy="259.8" r="1.35"/><circle cx="482.8" cy="259.0" r="1.35"/><circle cx="483.2" cy="258.6" r="1.35"/><circle cx="482.6" cy="257.7" r="1.35"/><circle cx="484.8" cy="258.1" r="1.35"/><circle cx="484.1" cy="257.2" r="1.35"/><circle cx="485.4" cy="257.2" r="1.35"/><circle cx="485.9" cy="256.8" r="1.35"/><circle cx="486.3" cy="256.4" r="1.35"/><circle cx="481.8" cy="253.5" r="1.35"/><circle cx="485.2" cy="254.6" r="1.35"/><circle cx="485.0" cy="253.9" r="1.35"/><circle cx="488.2" cy="254.8" r="1.35"/><circle cx="484.0" cy="252.1" r="1.35"/><circle cx="485.9" cy="252.4" r="1.35"/><circle cx="486.9" cy="252.3" r="1.35"/><circle cx="487.1" cy="251.8" r="1.35"/><circle cx="489.8" cy="252.5" r="1.35"/><circle cx="487.4" cy="250.7" r="1.35"/><circle cx="490.3" cy="251.5" r="1.35"/><circle cx="485.9" cy="248.7" r="1.35"/><circle cx="485.5" cy="247.9" r="1.35"/><circle cx="491.5" cy="250.2" r="1.35"/><circle cx="490.3" cy="249.0" r="1.35"/><circle cx="490.6" cy="248.6" r="1.35"/><circle cx="490.2" cy="247.7" r="1.35"/><circle cx="491.1" cy="247.6" r="1.35"/><circle cx="488.1" cy="245.5" r="1.35"/><circle cx="492.5" cy="246.8" r="1.35"/><circle cx="489.9" cy="245.0" r="1.35"/><circle cx="493.1" cy="245.8" r="1.35"/><circle cx="491.6" cy="244.4" r="1.35"/><circle cx="487.9" cy="242.1" r="1.35"/><circle cx="489.5" cy="242.1" r="1.35"/><circle cx="494.4" cy="243.7" r="1.35"/><circle cx="492.2" cy="242.0" r="1.35"/><circle cx="491.9" cy="241.2" r="1.35"/><circle cx="493.4" cy="241.2" r="1.35"/><circle cx="492.4" cy="240.1" r="1.35"/><circle cx="492.4" cy="239.4" r="1.35"/><circle cx="493.9" cy="239.4" r="1.35"/><circle cx="494.2" cy="238.9" r="1.35"/><circle cx="497.1" cy="239.5" r="1.35"/><circle cx="494.5" cy="237.7" r="1.35"/><circle cx="498.3" cy="238.7" r="1.35"/><circle cx="498.4" cy="238.1" r="1.35"/><circle cx="498.5" cy="237.5" r="1.35"/><circle cx="497.5" cy="236.3" r="1.35"/><circle cx="496.0" cy="235.0" r="1.35"/><circle cx="496.2" cy="234.4" r="1.35"/><circle cx="495.9" cy="233.6" r="1.35"/><circle cx="495.0" cy="232.6" r="1.35"/><circle cx="496.6" cy="232.6" r="1.35"/><circle cx="495.7" cy="231.6" r="1.35"/><circle cx="500.4" cy="232.8" r="1.35"/><circle cx="498.5" cy="231.3" r="1.35"/><circle cx="496.8" cy="229.9" r="1.35"/><circle cx="494.2" cy="228.1" r="1.35"/><circle cx="498.1" cy="229.1" r="1.35"/><circle cx="497.6" cy="228.2" r="1.35"/><circle cx="496.6" cy="227.0" r="1.35"/><circle cx="496.8" cy="226.4" r="1.35"/><circle cx="494.8" cy="224.9" r="1.35"/><circle cx="500.6" cy="226.6" r="1.35"/><circle cx="499.6" cy="225.5" r="1.35"/><circle cx="504.9" cy="227.1" r="1.35"/><circle cx="500.2" cy="224.3" r="1.35"/><circle cx="500.3" cy="223.7" r="1.35"/><circle cx="502.3" cy="223.8" r="1.35"/><circle cx="501.1" cy="222.6" r="1.35"/><circle cx="501.4" cy="222.1" r="1.35"/><circle cx="501.0" cy="221.2" r="1.35"/><circle cx="501.0" cy="220.5" r="1.35"/><circle cx="503.6" cy="220.8" r="1.35"/><circle cx="503.3" cy="220.0" r="1.35"/><circle cx="504.4" cy="219.7" r="1.35"/><circle cx="502.3" cy="218.1" r="1.35"/><circle cx="503.0" cy="217.7" r="1.35"/><circle cx="502.2" cy="216.7" r="1.35"/><circle cx="504.5" cy="216.9" r="1.35"/><circle cx="502.1" cy="215.2" r="1.35"/><circle cx="504.6" cy="215.4" r="1.35"/><circle cx="505.4" cy="215.0" r="1.35"/><circle cx="506.0" cy="214.6" r="1.35"/><circle cx="503.7" cy="212.9" r="1.35"/><circle cx="506.1" cy="213.4" r="1.35"/><circle cx="504.5" cy="211.9" r="1.35"/><circle cx="504.7" cy="211.4" r="1.35"/><circle cx="504.3" cy="210.7" r="1.35"/><circle cx="507.1" cy="211.8" r="1.35"/><circle cx="507.9" cy="211.7" r="1.35"/><circle cx="505.8" cy="209.9" r="1.35"/><circle cx="505.9" cy="209.4" r="1.35"/><circle cx="507.1" cy="209.1" r="1.35"/><circle cx="506.9" cy="210.7" r="1.35"/><circle cx="507.8" cy="210.3" r="1.35"/><circle cx="508.7" cy="209.8" r="1.35"/><circle cx="509.5" cy="209.5" r="1.35"/><circle cx="510.1" cy="210.2" r="1.35"/><circle cx="510.3" cy="211.6" r="1.35"/><circle cx="510.8" cy="212.5" r="1.35"/><circle cx="512.2" cy="212.6" r="1.35"/><circle cx="513.0" cy="213.2" r="1.35"/><circle cx="513.7" cy="214.2" r="1.35"/><circle cx="514.9" cy="214.9" r="1.35"/><circle cx="514.6" cy="216.6" r="1.35"/><circle cx="516.0" cy="217.1" r="1.35"/><circle cx="515.9" cy="218.7" r="1.35"/><circle cx="517.6" cy="219.0" r="1.35"/><circle cx="518.2" cy="220.2" r="1.35"/><circle cx="518.3" cy="221.9" r="1.35"/><circle cx="519.4" cy="223.1" r="1.35"/><circle cx="519.5" cy="224.8" r="1.35"/><circle cx="520.5" cy="226.1" r="1.35"/><circle cx="521.7" cy="227.2" r="1.35"/><circle cx="521.6" cy="229.0" r="1.35"/><circle cx="522.2" cy="231.3" r="1.35"/><circle cx="524.1" cy="233.2" r="1.35"/><circle cx="523.2" cy="236.0" r="1.35"/><circle cx="524.5" cy="238.1" r="1.35"/><circle cx="525.1" cy="240.4" r="1.35"/><circle cx="526.9" cy="242.2" r="1.35"/><circle cx="527.1" cy="244.5" r="1.35"/><circle cx="527.6" cy="246.6" r="1.35"/><circle cx="527.7" cy="248.9" r="1.35"/><circle cx="529.5" cy="250.6" r="1.35"/><circle cx="530.0" cy="252.7" r="1.35"/><circle cx="531.2" cy="254.6" r="1.35"/><circle cx="531.1" cy="257.0" r="1.35"/><circle cx="531.6" cy="259.2" r="1.35"/><circle cx="533.1" cy="261.0" r="1.35"/><circle cx="533.4" cy="263.3" r="1.35"/><circle cx="533.6" cy="265.5" r="1.35"/><circle cx="533.8" cy="267.8" r="1.35"/><circle cx="534.9" cy="269.8" r="1.35"/><circle cx="536.0" cy="271.6" r="1.35"/><circle cx="537.1" cy="273.4" r="1.35"/><circle cx="537.7" cy="275.3" r="1.35"/><circle cx="538.3" cy="277.2" r="1.35"/><circle cx="538.6" cy="279.1" r="1.35"/><circle cx="539.4" cy="281.0" r="1.35"/><circle cx="539.4" cy="283.1" r="1.35"/><circle cx="540.7" cy="284.8" r="1.35"/><circle cx="542.0" cy="286.7" r="1.35"/><circle cx="541.5" cy="289.2" r="1.35"/><circle cx="542.5" cy="291.2" r="1.35"/><circle cx="543.6" cy="293.2" r="1.35"/><circle cx="544.6" cy="294.9" r="1.35"/><circle cx="545.5" cy="296.5" r="1.35"/><circle cx="545.8" cy="297.9" r="1.35"/><circle cx="545.7" cy="299.4" r="1.35"/><circle cx="546.7" cy="300.6" r="1.35"/><circle cx="547.4" cy="302.2" r="1.35"/><circle cx="547.4" cy="304.0" r="1.35"/><circle cx="547.9" cy="305.6" r="1.35"/><circle cx="548.3" cy="307.3" r="1.35"/><circle cx="548.8" cy="309.0" r="1.35"/><circle cx="549.1" cy="310.7" r="1.35"/><circle cx="550.2" cy="312.2" r="1.35"/><circle cx="550.2" cy="314.0" r="1.35"/><circle cx="551.3" cy="315.5" r="1.35"/><circle cx="551.3" cy="316.8" r="1.35"/><circle cx="552.0" cy="317.6" r="1.35"/><circle cx="552.4" cy="318.4" r="1.35"/><circle cx="552.8" cy="319.3" r="1.35"/><circle cx="553.5" cy="320.0" r="1.35"/><circle cx="553.7" cy="321.0" r="1.35"/><circle cx="554.3" cy="321.8" r="1.35"/><circle cx="555.0" cy="322.5" r="1.35"/><circle cx="555.7" cy="323.5" r="1.35"/><circle cx="556.2" cy="324.5" r="1.35"/><circle cx="556.6" cy="325.6" r="1.35"/><circle cx="557.1" cy="326.7" r="1.35"/><circle cx="557.5" cy="327.7" r="1.35"/><circle cx="557.2" cy="329.2" r="1.35"/><circle cx="558.3" cy="329.9" r="1.35"/><circle cx="558.8" cy="331.0" r="1.35"/><circle cx="559.7" cy="331.8" r="1.35"/><circle cx="560.2" cy="332.9" r="1.2"/><circle cx="560.6" cy="333.9" r="1.2"/><circle cx="560.9" cy="334.9" r="1.2"/><circle cx="561.8" cy="335.7" r="1.2"/><circle cx="561.6" cy="337.1" r="1.2"/><circle cx="562.6" cy="337.7" r="1.2"/><circle cx="562.7" cy="338.9" r="1.2"/><circle cx="564.1" cy="339.4" r="1.2"/><circle cx="564.0" cy="340.7" r="1.2"/><circle cx="564.4" cy="341.7" r="1.2"/><circle cx="564.9" cy="342.6" r="1.2"/><circle cx="565.3" cy="343.6" r="1.2"/><circle cx="565.9" cy="344.4" r="1.2"/><circle cx="566.5" cy="345.2" r="1.2"/><circle cx="567.5" cy="345.8" r="1.2"/><circle cx="567.7" cy="346.8" r="1.2"/><circle cx="568.6" cy="347.4" r="1.2"/><circle cx="568.3" cy="348.8" r="1.2"/><circle cx="568.9" cy="349.6" r="1.2"/><circle cx="569.6" cy="350.4" r="1.2"/><circle cx="570.2" cy="351.1" r="1.2"/><circle cx="570.7" cy="352.0" r="1.2"/><circle cx="570.5" cy="353.3" r="1.2"/><circle cx="571.1" cy="354.0" r="1.2"/><circle cx="572.0" cy="354.5" r="1.2"/><circle cx="572.2" cy="355.4" r="1.2"/><circle cx="573.4" cy="355.7" r="1.2"/><circle cx="574.0" cy="356.4" r="1.2"/><circle cx="574.1" cy="357.3" r="1.2"/><circle cx="574.7" cy="358.0" r="1.2"/><circle cx="575.1" cy="358.8" r="1.2"/><circle cx="575.5" cy="359.7" r="1.2"/><circle cx="575.2" cy="360.9" r="1.2"/><circle cx="576.7" cy="361.0" r="1.2"/><circle cx="577.0" cy="361.9" r="1.2"/><circle cx="577.4" cy="362.6" r="1.2"/><circle cx="578.0" cy="363.2" r="1.2"/><circle cx="578.3" cy="364.1" r="1.2"/><circle cx="578.6" cy="364.9" r="1.2"/><circle cx="579.8" cy="365.0" r="1.2"/><circle cx="580.0" cy="365.9" r="1.2"/><circle cx="580.6" cy="366.4" r="1.2"/><circle cx="580.9" cy="367.2" r="1.2"/><circle cx="581.9" cy="367.5" r="1.2"/><circle cx="582.4" cy="368.1" r="1.2"/><circle cx="583.0" cy="368.6" r="1.2"/><circle cx="582.9" cy="369.8" r="1.2"/><circle cx="583.5" cy="370.4" r="1.2"/><circle cx="584.0" cy="371.0" r="1.2"/><circle cx="585.0" cy="371.1" r="1.2"/><circle cx="585.1" cy="372.0" r="1.2"/><circle cx="585.7" cy="372.5" r="1.2"/><circle cx="586.3" cy="372.9" r="1.2"/><circle cx="586.7" cy="373.5" r="1.2"/><circle cx="586.8" cy="374.4" r="1.2"/><circle cx="587.4" cy="374.9" r="1.2"/><circle cx="588.0" cy="375.3" r="1.2"/><circle cx="588.4" cy="376.0" r="1.2"/><circle cx="589.1" cy="376.3" r="1.2"/><circle cx="589.5" cy="377.0" r="1.2"/><circle cx="590.0" cy="377.5" r="1.2"/><circle cx="590.4" cy="378.2" r="1.2"/><circle cx="591.0" cy="378.7" r="1.2"/><circle cx="591.5" cy="379.2" r="1.2"/><circle cx="592.0" cy="379.8" r="1.2"/><circle cx="592.6" cy="380.3" r="1.2"/><circle cx="592.5" cy="381.5" r="1.2"/><circle cx="593.4" cy="381.7" r="1.2"/><circle cx="593.9" cy="382.3" r="1.2"/><circle cx="594.0" cy="383.3" r="1.2"/><circle cx="594.7" cy="383.7" r="1.2"/><circle cx="595.9" cy="383.7" r="1.2"/><circle cx="595.8" cy="384.8" r="1.2"/><circle cx="596.3" cy="385.4" r="1.2"/><circle cx="596.6" cy="386.2" r="1.2"/><circle cx="597.2" cy="386.7" r="1.2"/><circle cx="597.8" cy="387.1" r="1.2"/><circle cx="598.7" cy="387.2" r="1.2"/><circle cx="599.2" cy="387.8" r="1.2"/><circle cx="599.4" cy="388.5" r="1.2"/><circle cx="599.9" cy="389.0" r="1.2"/><circle cx="600.7" cy="389.1" r="1.2"/><circle cx="601.1" cy="389.7" r="1.2"/><circle cx="601.6" cy="390.2" r="1.2"/><circle cx="602.0" cy="390.8" r="1.2"/><circle cx="602.4" cy="391.3" r="1.2"/><circle cx="603.1" cy="391.6" r="1.2"/><circle cx="603.8" cy="391.9" r="1.2"/><circle cx="603.7" cy="392.9" r="1.2"/><circle cx="604.2" cy="393.5" r="1.2"/><circle cx="605.0" cy="393.6" r="1.2"/><circle cx="605.3" cy="394.3" r="1.2"/><circle cx="605.9" cy="394.6" r="1.2"/><circle cx="606.4" cy="395.1" r="1.2"/><circle cx="606.9" cy="395.6" r="1.2"/><circle cx="607.6" cy="395.7" r="1.2"/><circle cx="607.9" cy="396.4" r="1.2"/><circle cx="608.3" cy="397.0" r="1.2"/><circle cx="609.2" cy="396.9" r="1.2"/><circle cx="609.1" cy="398.0" r="1.2"/><circle cx="609.6" cy="398.5" r="1.2"/><circle cx="610.1" cy="398.9" r="1.2"/><circle cx="610.6" cy="399.3" r="1.2"/><circle cx="611.4" cy="399.5" r="1.2"/><circle cx="612.1" cy="399.6" r="1.2"/><circle cx="612.6" cy="400.0" r="1.2"/><circle cx="613.2" cy="400.4" r="1.2"/><circle cx="613.5" cy="401.0" r="1.2"/><circle cx="614.0" cy="401.4" r="1.2"/><circle cx="614.4" cy="402.0" r="1.2"/><circle cx="615.4" cy="401.8" r="1.2"/><circle cx="615.0" cy="403.2" r="1.2"/><circle cx="615.6" cy="403.7" r="1.2"/><circle cx="616.5" cy="403.6" r="1.2"/><circle cx="616.9" cy="404.2" r="1.2"/><circle cx="617.4" cy="404.5" r="1.2"/><circle cx="617.9" cy="404.9" r="1.2"/><circle cx="618.5" cy="405.2" r="1.2"/><circle cx="619.0" cy="405.6" r="1.2"/><circle cx="619.7" cy="405.8" r="1.2"/><circle cx="620.0" cy="406.5" r="1.2"/><circle cx="620.5" cy="406.8" r="1.2"/><circle cx="620.9" cy="407.3" r="1.2"/><circle cx="621.7" cy="407.5" r="1.2"/><circle cx="622.0" cy="408.1" r="1.2"/><circle cx="622.5" cy="408.5" r="1.2"/><circle cx="622.9" cy="409.0" r="1.2"/><circle cx="623.7" cy="409.0" r="1.2"/><circle cx="623.9" cy="409.8" r="1.2"/><circle cx="624.3" cy="410.3" r="1.2"/><circle cx="624.9" cy="410.6" r="1.2"/><circle cx="625.6" cy="410.8" r="1.2"/><circle cx="626.1" cy="411.2" r="1.2"/><circle cx="626.5" cy="411.7" r="1.2"/><circle cx="626.9" cy="412.3" r="1.2"/><circle cx="627.2" cy="412.9" r="1.2"/><circle cx="628.0" cy="412.9" r="1.2"/><circle cx="628.6" cy="413.1" r="1.2"/><circle cx="628.9" cy="413.8" r="1.2"/><circle cx="629.5" cy="414.1" r="1.2"/><circle cx="630.2" cy="414.2" r="1.2"/><circle cx="630.6" cy="414.6" r="1.2"/><circle cx="631.0" cy="415.2" r="1.2"/><circle cx="631.4" cy="415.7" r="1.2"/><circle cx="632.2" cy="415.7" r="1.2"/><circle cx="632.7" cy="416.1" r="1.2"/><circle cx="632.9" cy="416.8" r="1.2"/><circle cx="633.7" cy="416.8" r="1.2"/><circle cx="634.0" cy="417.5" r="1.2"/><circle cx="634.4" cy="417.9" r="1.2"/><circle cx="635.0" cy="418.2" r="1.2"/><circle cx="635.7" cy="418.4" r="1.2"/><circle cx="636.0" cy="419.0" r="1.2"/><circle cx="636.6" cy="419.3" r="1.2"/><circle cx="636.9" cy="419.8" r="1.2"/><circle cx="637.6" cy="419.8" r="1.2"/><circle cx="637.8" cy="420.6" r="1.2"/><circle cx="638.8" cy="420.3" r="1.2"/><circle cx="639.0" cy="421.0" r="1.2"/><circle cx="639.5" cy="421.4" r="1.2"/><circle cx="639.8" cy="422.0" r="1.2"/><circle cx="640.6" cy="421.9" r="1.2"/><circle cx="640.9" cy="422.5" r="1.2"/><circle cx="641.6" cy="422.6" r="1.2"/><circle cx="641.9" cy="423.3" r="1.2"/><circle cx="642.2" cy="423.9" r="1.2"/><circle cx="643.1" cy="423.7" r="1.2"/><circle cx="643.4" cy="424.2" r="1.2"/><circle cx="644.2" cy="424.2" r="1.2"/><circle cx="644.3" cy="425.0" r="1.2"/><circle cx="644.8" cy="425.4" r="1.2"/><circle cx="645.5" cy="425.4" r="1.2"/><circle cx="646.2" cy="425.4" r="1.2"/><circle cx="646.4" cy="426.1" r="1.2"/><circle cx="646.8" cy="426.5" r="1.2"/><circle cx="647.3" cy="426.8" r="1.2"/><circle cx="647.9" cy="427.0" r="1.2"/><circle cx="648.8" cy="426.5" r="1.2"/><circle cx="649.1" cy="427.1" r="1.2"/><circle cx="649.3" cy="427.9" r="1.2"/><circle cx="650.2" cy="427.5" r="1.2"/><circle cx="650.3" cy="428.4" r="1.2"/><circle cx="650.7" cy="428.9" r="1.2"/><circle cx="651.4" cy="428.8" r="1.2"/><circle cx="651.8" cy="429.2" r="1.2"/><circle cx="652.5" cy="429.1" r="1.2"/><circle cx="653.2" cy="429.1" r="1.2"/><circle cx="653.5" cy="429.7" r="1.2"/><circle cx="654.0" cy="429.9" r="1.2"/><circle cx="654.5" cy="430.2" r="1.2"/><circle cx="654.9" cy="430.7" r="1.2"/><circle cx="655.5" cy="430.7" r="1.2"/><circle cx="656.0" cy="431.0" r="1.2"/><circle cx="656.4" cy="431.3" r="1.2"/><circle cx="657.0" cy="431.4" r="1.2"/><circle cx="657.3" cy="432.2" r="1.2"/><circle cx="657.9" cy="432.0" r="1.2"/><circle cx="658.5" cy="432.1" r="1.2"/><circle cx="659.0" cy="432.3" r="1.2"/><circle cx="659.6" cy="432.4" r="1.2"/><circle cx="659.8" cy="433.2" r="1.2"/><circle cx="660.5" cy="433.1" r="1.2"/><circle cx="661.1" cy="433.0" r="1.2"/><circle cx="661.6" cy="433.3" r="1.2"/><circle cx="662.0" cy="433.7" r="1.2"/><circle cx="662.6" cy="433.8" r="1.2"/><circle cx="662.9" cy="434.5" r="1.2"/><circle cx="663.6" cy="434.1" r="1.2"/><circle cx="663.9" cy="434.8" r="1.2"/><circle cx="664.5" cy="434.9" r="1.2"/><circle cx="665.1" cy="434.8" r="1.2"/><circle cx="665.5" cy="435.3" r="1.2"/><circle cx="666.0" cy="435.5" r="1.2"/><circle cx="666.4" cy="435.9" r="1.2"/><circle cx="667.1" cy="435.9" r="1.2"/><circle cx="667.5" cy="436.3" r="1.2"/><circle cx="668.2" cy="436.0" r="1.2"/><circle cx="668.6" cy="436.4" r="1.2"/><circle cx="668.9" cy="437.1" r="1.2"/><circle cx="669.4" cy="437.4" r="1.2"/><circle cx="670.0" cy="437.4" r="1.2"/><circle cx="670.6" cy="437.4" r="1.2"/><circle cx="670.9" cy="438.1" r="1.2"/><circle cx="671.8" cy="437.5" r="1.2"/><circle cx="672.1" cy="438.0" r="1.2"/><circle cx="672.4" cy="438.7" r="1.2"/><circle cx="672.9" cy="438.9" r="1.2"/><circle cx="673.6" cy="438.6" r="1.2"/><circle cx="674.2" cy="438.6" r="1.2"/><circle cx="674.3" cy="439.8" r="1.2"/><circle cx="675.0" cy="439.6" r="1.2"/><circle cx="675.6" cy="439.6" r="1.2"/><circle cx="676.0" cy="440.1" r="1.2"/><circle cx="676.4" cy="440.5" r="1.2"/><circle cx="677.3" cy="439.8" r="1.2"/><circle cx="677.4" cy="441.0" r="1.2"/><circle cx="677.9" cy="441.1" r="1.2"/><circle cx="678.7" cy="440.4" r="1.2"/><circle cx="678.9" cy="441.4" r="1.2"/><circle cx="679.7" cy="440.9" r="1.2"/><circle cx="679.9" cy="441.9" r="1.2"/><circle cx="680.5" cy="441.9" r="1.2"/><circle cx="680.8" cy="442.6" r="1.2"/><circle cx="681.6" cy="441.9" r="1.2"/><circle cx="682.0" cy="442.3" r="1.2"/><circle cx="682.4" cy="442.8" r="1.2"/><circle cx="683.1" cy="442.5" r="1.2"/><circle cx="683.6" cy="442.6" r="1.2"/><circle cx="684.0" cy="442.9" r="1.2"/><circle cx="684.5" cy="443.1" r="1.2"/><circle cx="685.1" cy="443.0" r="1.2"/><circle cx="685.5" cy="443.7" r="1.2"/><circle cx="685.9" cy="443.9" r="1.2"/><circle cx="686.5" cy="443.9" r="1.2"/><circle cx="686.8" cy="444.5" r="1.2"/><circle cx="687.5" cy="444.1" r="1.2"/><circle cx="687.9" cy="444.8" r="1.2"/><circle cx="688.6" cy="444.4" r="1.2"/><circle cx="688.9" cy="445.0" r="1.2"/><circle cx="689.7" cy="444.4" r="1.2"/><circle cx="690.0" cy="445.2" r="1.2"/><circle cx="690.5" cy="445.3" r="1.2"/><circle cx="691.1" cy="445.4" r="1.2"/><circle cx="691.6" cy="445.6" r="1.2"/><circle cx="692.0" cy="445.9" r="1.2"/><circle cx="692.6" cy="446.0" r="1.2"/><circle cx="693.3" cy="445.8" r="1.2"/><circle cx="693.6" cy="446.5" r="1.2"/><circle cx="694.1" cy="446.7" r="1.2"/><circle cx="694.6" cy="446.9" r="1.2"/><circle cx="695.1" cy="447.0" r="1.2"/><circle cx="695.5" cy="447.5" r="1.2"/><circle cx="695.9" cy="448.0" r="1.2"/><circle cx="696.5" cy="447.9" r="1.2"/><circle cx="697.1" cy="448.0" r="1.2"/><circle cx="697.3" cy="448.8" r="1.2"/><circle cx="697.9" cy="448.9" r="1.2"/><circle cx="698.4" cy="449.1" r="1.2"/><circle cx="698.9" cy="449.4" r="1.2"/><circle cx="699.5" cy="449.2" r="1.2"/><circle cx="700.0" cy="449.5" r="1.2"/><circle cx="700.4" cy="450.0" r="1.2"/><circle cx="701.1" cy="449.8" r="1.2"/><circle cx="701.5" cy="450.1" r="1.2"/><circle cx="702.0" cy="450.5" r="1.2"/><circle cx="702.5" cy="450.7" r="1.2"/><circle cx="703.0" cy="450.7" r="1.2"/><circle cx="703.4" cy="451.3" r="1.2"/><circle cx="704.0" cy="451.2" r="1.2"/><circle cx="704.4" cy="451.6" r="1.2"/><circle cx="704.9" cy="452.0" r="1.2"/><circle cx="705.4" cy="452.1" r="1.2"/><circle cx="705.9" cy="452.3" r="1.2"/><circle cx="706.6" cy="452.0" r="1.2"/><circle cx="707.2" cy="452.2" r="1.2"/><circle cx="707.6" cy="452.6" r="1.2"/><circle cx="707.9" cy="453.1" r="1.2"/><circle cx="708.3" cy="453.6" r="1.2"/><circle cx="709.1" cy="453.0" r="1.2"/><circle cx="709.5" cy="453.7" r="1.2"/><circle cx="710.1" cy="453.6" r="1.2"/><circle cx="710.6" cy="453.8" r="1.2"/><circle cx="711.0" cy="454.2" r="1.2"/><circle cx="711.4" cy="454.7" r="1.2"/><circle cx="712.0" cy="454.7" r="1.2"/><circle cx="712.4" cy="455.2" r="1.2"/><circle cx="713.1" cy="454.9" r="1.2"/><circle cx="713.4" cy="455.6" r="1.2"/><circle cx="713.9" cy="455.8" r="1.2"/><circle cx="714.5" cy="455.8" r="1.2"/><circle cx="714.9" cy="456.1" r="1.2"/><circle cx="715.6" cy="456.1" r="1.2"/><circle cx="716.1" cy="456.1" r="1.2"/><circle cx="716.5" cy="456.6" r="1.2"/><circle cx="717.1" cy="456.7" r="1.2"/><circle cx="717.2" cy="457.9" r="1.2"/><circle cx="718.1" cy="457.2" r="1.2"/></g>
<path d="M295.4 386.8L298.6 386.8M307.3 388.2L316.7 391.1M333.0 393.5L346.3 392.2M354.7 389.8L373.5 380.1M381.0 375.3L395.7 363.6M401.8 357.2L417.8 334.5M423.4 327.6L439.8 309.4M445.6 302.7L479.5 262.0M484.1 254.6L490.6 240.5M494.5 240.4L546.7 336.3M552.8 342.1L602.6 365.7M609.4 371.0L656.9 429.2M663.8 434.4L718.4 458.9" fill="none" stroke="#008000" stroke-width="1.2"/>
<g fill="#008000"><circle cx="291" cy="386.7" r="3.45"/><circle cx="303" cy="386.9" r="3.45"/><circle cx="321" cy="392.4" r="3.45"/><circle cx="328.6" cy="393.9" r="3.45"/><circle cx="350.7" cy="391.8" r="3.45"/><circle cx="377.5" cy="378.1" r="3.45"/><circle cx="399.2" cy="360.8" r="3.45"/><circle cx="420.4" cy="330.9" r="3.45"/><circle cx="442.8" cy="306.1" r="3.45"/><circle cx="482.3" cy="258.6" r="3.45"/><circle cx="492.4" cy="236.5" r="3.45"/><circle cx="548.8" cy="340.2" r="3.45"/><circle cx="606.6" cy="367.6" r="3.45"/><circle cx="659.7" cy="432.6" r="3.45"/></g>
<path d="M295.4 351.7L298.6 351.7M307.4 352.5L316.6 354.4M333.0 356.4L346.3 354.9M354.4 351.9L373.8 338.8M380.7 333.2L396.0 318.9M402.1 312.4L417.5 294.4M422.9 287.3L440.3 261.4M446.6 255.4L478.5 235.7M486.6 234.4L488.1 234.7M494.2 239.8L547.0 358.5M552.9 364.3L602.5 384.2M609.7 389.1L656.6 439.1M663.8 443.9L718.4 465.4" fill="none" stroke="#000080" stroke-width="1.2"/>
<g fill="#000080"><circle cx="291" cy="351.7" r="3.45"/><circle cx="303" cy="351.7" r="3.45"/><circle cx="321" cy="355.2" r="3.45"/><circle cx="328.6" cy="356.9" r="3.45"/><circle cx="350.7" cy="354.4" r="3.45"/><circle cx="377.5" cy="336.3" r="3.45"/><circle cx="399.2" cy="315.8" r="3.45"/><circle cx="420.4" cy="291" r="3.45"/><circle cx="442.8" cy="257.7" r="3.45"/><circle cx="482.3" cy="233.4" r="3.45"/><circle cx="492.4" cy="235.7" r="3.45"/><circle cx="548.8" cy="362.6" r="3.45"/><circle cx="606.6" cy="385.9" r="3.45"/><circle cx="659.7" cy="442.3" r="3.45"/></g>
<path d="M278.0 312.0L279.7 311.8M295.5 312.3L298.6 311.6M307.4 311.6L316.7 313.4M332.8 311.7L346.3 308.5M354.3 304.9L373.9 291.8M380.8 286.2L396.0 271.8M402.0 265.2L417.6 245.5M423.0 238.4L440.2 214.1M445.7 213.8L479.4 252.3M483.9 259.8L490.8 278.4M494.6 286.5L546.6 376.5M553.0 381.8L602.4 398.8M609.8 403.3L656.5 447.2M663.9 451.9L718.4 472.8" fill="none" stroke="#808000" stroke-width="1.2"/>
<g fill="#808000"><circle cx="273.6" cy="312.4" r="3.45"/><circle cx="284.1" cy="311.4" r="3.45"/><circle cx="291.1" cy="313.2" r="3.45"/><circle cx="303" cy="310.7" r="3.45"/><circle cx="321.1" cy="314.3" r="3.45"/><circle cx="328.5" cy="312.8" r="3.45"/><circle cx="350.6" cy="307.4" r="3.45"/><circle cx="377.6" cy="289.3" r="3.45"/><circle cx="399.2" cy="268.7" r="3.45"/><circle cx="420.4" cy="242" r="3.45"/><circle cx="442.8" cy="210.5" r="3.45"/><circle cx="482.3" cy="255.6" r="3.45"/><circle cx="492.4" cy="282.6" r="3.45"/><circle cx="548.8" cy="380.4" r="3.45"/><circle cx="606.6" cy="400.2" r="3.45"/><circle cx="659.7" cy="450.3" r="3.45"/></g>
<path d="M278.0 262.1L279.7 262.1M295.5 261.8L298.6 261.2M307.3 261.6L316.8 264.3M324.5 262.8L325.1 262.3M332.7 258.1L346.4 253.8M354.3 249.9L373.9 236.6M381.1 231.3L395.7 219.8M402.5 214.0L417.1 201.2M423.6 201.3L439.6 216.8M444.8 223.9L480.3 293.3M484.0 301.4L490.7 317.3M495.1 324.9L546.1 391.7M553.1 396.4L602.3 410.0M610.0 414.1L656.3 454.4M663.9 458.7L718.4 477.0" fill="none" stroke="#ff00ff" stroke-width="1.2"/>
<g fill="#ff00ff"><circle cx="273.6" cy="262.4" r="3.45"/><circle cx="284.1" cy="261.8" r="3.45"/><circle cx="291.1" cy="262.7" r="3.45"/><circle cx="303" cy="260.3" r="3.45"/><circle cx="321.1" cy="265.6" r="3.45"/><circle cx="328.5" cy="259.5" r="3.45"/><circle cx="350.6" cy="252.4" r="3.45"/><circle cx="377.6" cy="234.1" r="3.45"/><circle cx="399.2" cy="217" r="3.45"/><circle cx="420.4" cy="198.2" r="3.45"/><circle cx="442.8" cy="219.9" r="3.45"/><circle cx="482.3" cy="297.3" r="3.45"/><circle cx="492.4" cy="321.4" r="3.45"/><circle cx="548.8" cy="395.2" r="3.45"/><circle cx="606.6" cy="411.2" r="3.45"/><circle cx="659.7" cy="457.3" r="3.45"/></g>
<path d="M278.0 202.4L279.7 202.5M295.5 203.9L298.6 204.4M307.4 205.3L316.7 205.7M332.8 200.5L346.3 197.3M354.6 194.3L373.6 184.7M382.0 183.1L394.8 184.1M401.9 188.0L417.7 208.7M422.1 216.3L441.1 261.0M445.2 268.9L479.9 323.3M484.6 330.9L490.1 339.7M495.4 346.8L545.8 403.1M553.1 407.5L602.3 419.7M610.1 423.6L656.2 460.4M663.9 464.5L718.4 481.6" fill="none" stroke="#0000ff" stroke-width="1.2"/>
<g fill="#0000ff"><circle cx="273.6" cy="202.4" r="3.45"/><circle cx="284.1" cy="202.5" r="3.45"/><circle cx="291.1" cy="203.1" r="3.45"/><circle cx="303" cy="205.2" r="3.45"/><circle cx="321.1" cy="205.8" r="3.45"/><circle cx="328.5" cy="201.5" r="3.45"/><circle cx="350.6" cy="196.3" r="3.45"/><circle cx="377.6" cy="182.7" r="3.45"/><circle cx="399.2" cy="184.5" r="3.45"/><circle cx="420.4" cy="212.2" r="3.45"/><circle cx="442.8" cy="265.1" r="3.45"/><circle cx="482.3" cy="327.1" r="3.45"/><circle cx="492.4" cy="343.5" r="3.45"/><circle cx="548.8" cy="406.4" r="3.45"/><circle cx="606.6" cy="420.8" r="3.45"/><circle cx="659.7" cy="463.2" r="3.45"/></g>
<path d="M277.8 144.4L279.9 145.0M295.3 144.4L298.8 143.0M307.3 142.7L316.8 145.2M332.9 144.3L346.2 145.2M354.4 147.7L373.8 159.1M379.7 165.2L397.1 197.3M400.7 205.4L418.9 255.8M422.7 263.8L440.5 292.9M445.7 300.1L479.4 340.5M484.8 347.6L489.9 354.7M495.5 361.6L545.7 412.2M553.1 416.4L602.3 427.9M610.2 431.5L656.1 464.8M664.0 468.7L718.4 485.5" fill="none" stroke="#ff0000" stroke-width="1.2"/>
<g fill="#ff0000"><circle cx="273.6" cy="143" r="3.45"/><circle cx="284.1" cy="146.4" r="3.45"/><circle cx="291.1" cy="145.9" r="3.45"/><circle cx="303" cy="141.5" r="3.45"/><circle cx="321.1" cy="146.4" r="3.45"/><circle cx="328.5" cy="144" r="3.45"/><circle cx="350.6" cy="145.5" r="3.45"/><circle cx="377.6" cy="161.3" r="3.45"/><circle cx="399.2" cy="201.2" r="3.45"/><circle cx="420.4" cy="260" r="3.45"/><circle cx="442.8" cy="296.7" r="3.45"/><circle cx="482.3" cy="343.9" r="3.45"/><circle cx="492.4" cy="358.4" r="3.45"/><circle cx="548.8" cy="415.4" r="3.45"/><circle cx="606.6" cy="428.9" r="3.45"/><circle cx="659.7" cy="467.4" r="3.45"/></g>
<path d="M278.1 102.5L279.7 102.5M295.5 102.6L298.6 102.6M307.3 103.7L316.8 106.3M324.0 110.9L325.6 112.9M331.2 119.8L347.9 141.2M352.5 148.7L376.1 197.0M380.2 204.9L397.0 235.4M401.0 243.4L418.6 282.7M423.0 290.4L440.2 315.1M446.0 321.8L479.1 354.5M484.9 361.2L489.8 368.0M495.7 374.6L545.5 418.9M553.1 422.9L602.3 433.6M610.2 437.2L656.1 470.2M664.0 474.0L718.4 488.8" fill="none" stroke="#000000" stroke-width="1.2"/>
<g fill="#000000"><circle cx="273.6" cy="102.5" r="3.45"/><circle cx="284.1" cy="102.5" r="3.45"/><circle cx="291.1" cy="102.7" r="3.45"/><circle cx="303" cy="102.5" r="3.45"/><circle cx="321.1" cy="107.5" r="3.45"/><circle cx="328.5" cy="116.3" r="3.45"/><circle cx="350.6" cy="144.7" r="3.45"/><circle cx="378" cy="201" r="3.45"/><circle cx="399.2" cy="239.3" r="3.45"/><circle cx="420.4" cy="286.8" r="3.45"/><circle cx="442.8" cy="318.7" r="3.45"/><circle cx="482.3" cy="357.6" r="3.45"/><circle cx="492.4" cy="371.6" r="3.45"/><circle cx="548.8" cy="421.9" r="3.45"/><circle cx="606.6" cy="434.6" r="3.45"/><circle cx="659.7" cy="472.8" r="3.45"/></g>
</g>
<rect x="158.2" y="45.9" width="560.3" height="460.20000000000005" fill="none" stroke="#000" stroke-width="1.85"/>
<path d="M158.2 506.1 v-9 M158.2 45.9 v9 M221.9 506.1 v-5 M221.9 45.9 v5 M285.5 506.1 v-9 M285.5 45.9 v9 M349.2 506.1 v-5 M349.2 45.9 v5 M412.9 506.1 v-9 M412.9 45.9 v9 M476.6 506.1 v-5 M476.6 45.9 v5 M540.2 506.1 v-9 M540.2 45.9 v9 M603.9 506.1 v-5 M603.9 45.9 v5 M667.6 506.1 v-9 M667.6 45.9 v9 M158.2 463.0 h5 M718.5 463.0 h-5 M158.2 391.1 h9 M718.5 391.1 h-9 M158.2 319.1 h5 M718.5 319.1 h-5 M158.2 247.2 h9 M718.5 247.2 h-9 M158.2 175.3 h5 M718.5 175.3 h-5 M158.2 103.4 h9 M718.5 103.4 h-9" stroke="#000" stroke-width="1.6" fill="none"/>
<text transform="translate(158.0,536.2) scale(0.95,1)" font-size="27.2" text-anchor="middle">0.0</text>
<text transform="translate(285.3,536.2) scale(0.95,1)" font-size="27.2" text-anchor="middle">0.5</text>
<text transform="translate(412.7,536.2) scale(0.95,1)" font-size="27.2" text-anchor="middle">1.0</text>
<text transform="translate(540.0,536.2) scale(0.95,1)" font-size="27.2" text-anchor="middle">1.5</text>
<text transform="translate(667.4,536.2) scale(0.95,1)" font-size="27.2" text-anchor="middle">2.0</text>
<text transform="translate(148.3,399.9) scale(0.95,1)" font-size="27.2" text-anchor="end">1.0</text>
<text transform="translate(148.3,256.1) scale(0.95,1)" font-size="27.2" text-anchor="end">1.5</text>
<text transform="translate(148.3,112.3) scale(0.95,1)" font-size="27.2" text-anchor="end">2.0</text>
<text transform="translate(436.3,568.9) scale(0.97,1.03)" font-size="25" text-anchor="middle">T (K)</text>
<text transform="translate(82.2,375.5) rotate(-90) scale(1,1.04)" font-size="30">C/T (J K<tspan font-size="26" dy="-13">-2</tspan><tspan dy="13"> mol</tspan><tspan font-size="21" dy="-15.9" dx="-1">-1</tspan><tspan dy="15.9"> )</tspan></text>
<text transform="translate(185.3,96.4) scale(0.98,1)" font-size="27.3" fill="#000">H = 5.2 T</text>
<text transform="translate(228.4,148.8) scale(0.95,1)" font-size="27.3" fill="#ff0000">5.1</text>
<text transform="translate(227.4,200.3) scale(0.95,1)" font-size="27.3" fill="#0000ff">5.0</text>
<text transform="translate(257.9,240.1) scale(0.95,1)" font-size="27.3" fill="#ff0000">5.0</text>
<text transform="translate(223,274.2) scale(0.95,1)" font-size="27.3" fill="#ff00ff">4.9</text>
<text transform="translate(219.5,320) scale(0.95,1)" font-size="27.3" fill="#808000">4.8</text>
<text transform="translate(242.3,356.7) scale(0.95,1)" font-size="27.3" fill="#000080">4.7</text>
<text transform="translate(247.1,398.3) scale(0.95,1)" font-size="27.3" fill="#008000">4.6</text>
<text transform="translate(300,434.7) scale(0.95,1)" font-size="27.3" fill="#8000ff">4.5</text>
<text transform="translate(424.6,424.3) scale(0.95,1)" font-size="27.3" fill="#800000">4.0</text>
<text transform="translate(641.5,250.9) scale(0.95,1)" font-size="27.3" fill="#808080">4.0</text>
<line x1="297.4" y1="229.1" x2="321.8" y2="218.7" stroke="#ff0000" stroke-width="1.2"/>
<polygon points="331.0,214.8 323.0,221.5 320.6,216.0" fill="#ff0000"/>
<line x1="467.1" y1="413.3" x2="479.5" y2="413.8" stroke="#800000" stroke-width="1.2"/>
<polygon points="489.5,414.2 479.4,416.8 479.6,410.8" fill="#800000"/>
<line x1="636.2" y1="230.3" x2="627.8" y2="226.6" stroke="#808080" stroke-width="1.2"/>
<polygon points="618.7,222.5 629.1,223.8 626.6,229.3" fill="#808080"/>
</svg></body></html>
